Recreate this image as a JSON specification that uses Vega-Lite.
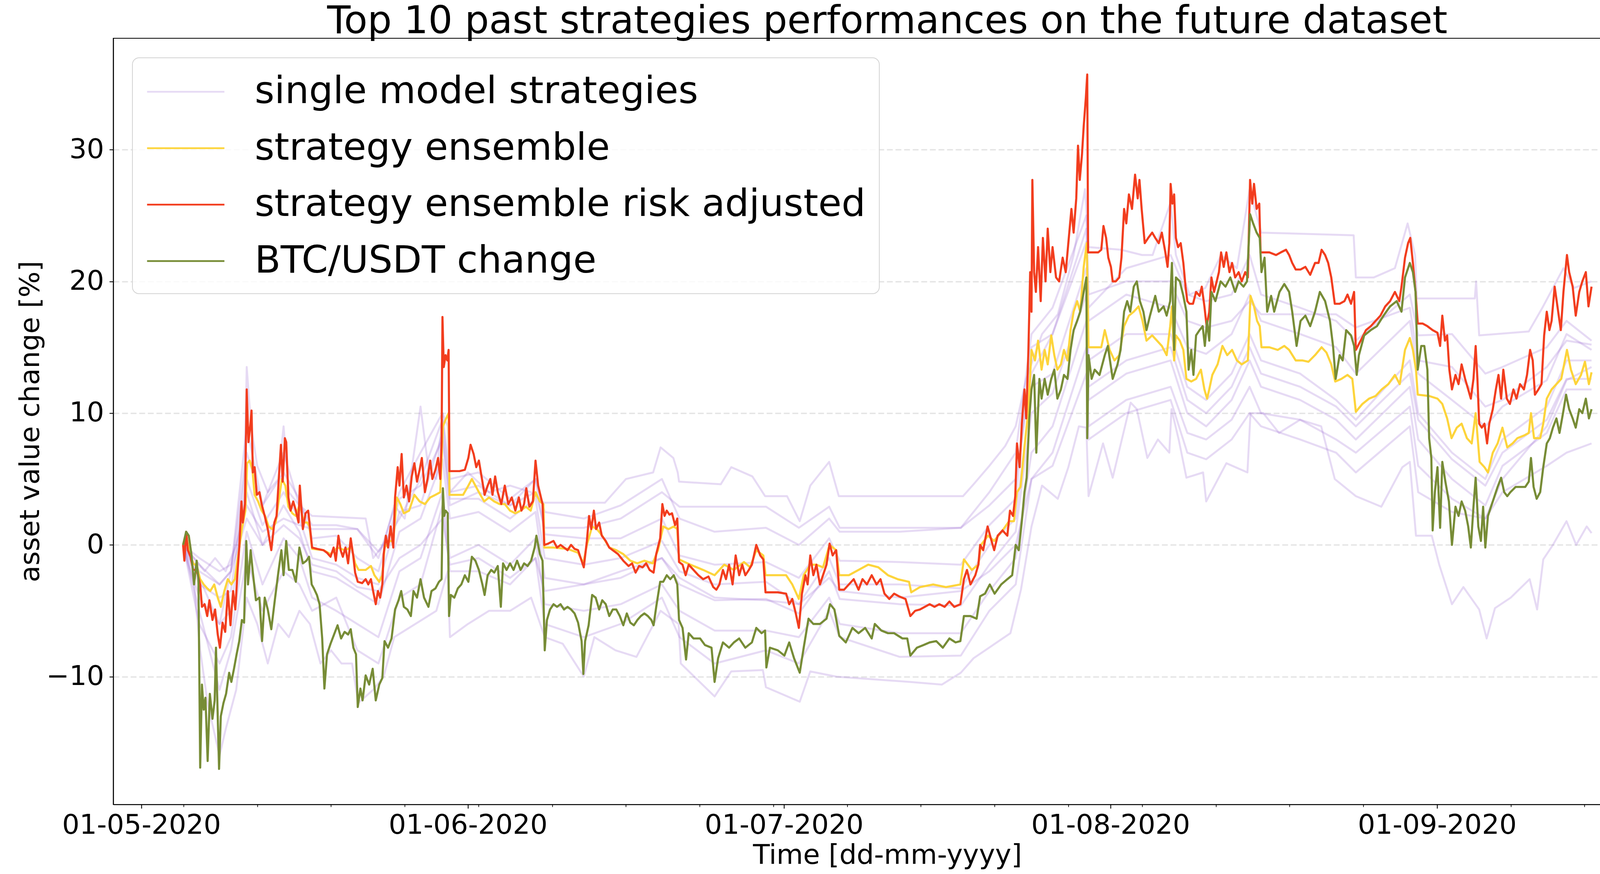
{
  "$schema": "https://vega.github.io/schema/vega-lite/v6.json",
  "width": 4278,
  "height": 2238,
  "autosize": {"type": "fit", "contains": "padding"},
  "padding": {"left": 43, "top": 7, "right": 25, "bottom": 13},
  "background": "white",
  "title": {"text": "Top 10 past strategies performances on the future dataset", "font": "DejaVu Sans", "fontSize": 98, "fontWeight": "normal", "color": "black", "anchor": "middle", "offset": -8},
  "config": {
    "font": "DejaVu Sans",
    "view": {"stroke": "black", "strokeWidth": 2.2}
  },
  "datasets": {
    "single": [
      {"s":1,"t":"2020-05-04 23","v":0},{"s":1,"t":"2020-05-06 00","v":-3},{"s":1,"t":"2020-05-06 14","v":-8},{"s":1,"t":"2020-05-07 07","v":-12},{"s":1,"t":"2020-05-08 10","v":-16},{"s":1,"t":"2020-05-09 00","v":-14},{"s":1,"t":"2020-05-10 00","v":-11},{"s":1,"t":"2020-05-11 00","v":-4},{"s":1,"t":"2020-05-12 00","v":-6},{"s":1,"t":"2020-05-13 00","v":-9},{"s":1,"t":"2020-05-14 00","v":-6},{"s":1,"t":"2020-05-15 00","v":-7},{"s":1,"t":"2020-05-16 00","v":-5},{"s":1,"t":"2020-05-17 00","v":-6},{"s":1,"t":"2020-05-18 00","v":-9},{"s":1,"t":"2020-05-19 00","v":-8},{"s":1,"t":"2020-05-20 00","v":-9},{"s":1,"t":"2020-05-21 00","v":-9},{"s":1,"t":"2020-05-21 14","v":-12},{"s":1,"t":"2020-05-23 00","v":-11},{"s":1,"t":"2020-05-24 00","v":-10},{"s":1,"t":"2020-05-25 00","v":-7},{"s":1,"t":"2020-05-27 00","v":-6},{"s":1,"t":"2020-05-29 00","v":-5},{"s":1,"t":"2020-05-30 02","v":-2},{"s":1,"t":"2020-05-30 07","v":-7},{"s":1,"t":"2020-06-01 00","v":-6},{"s":1,"t":"2020-06-03 00","v":-5},{"s":1,"t":"2020-06-05 00","v":-5},{"s":1,"t":"2020-06-07 00","v":-4},{"s":1,"t":"2020-06-08 07","v":-7},{"s":1,"t":"2020-06-10 00","v":-7.5},{"s":1,"t":"2020-06-12 00","v":-10},{"s":1,"t":"2020-06-13 00","v":-7},{"s":1,"t":"2020-06-15 00","v":-8},{"s":1,"t":"2020-06-17 00","v":-8.5},{"s":1,"t":"2020-06-19 07","v":-5},{"s":1,"t":"2020-06-21 00","v":-6},{"s":1,"t":"2020-06-21 05","v":-9},{"s":1,"t":"2020-06-24 10","v":-11.5},{"s":1,"t":"2020-06-26 00","v":-9.6},{"s":1,"t":"2020-06-29 00","v":-9.5},{"s":1,"t":"2020-06-29 07","v":-10.8},{"s":1,"t":"2020-07-02 12","v":-11.9},{"s":1,"t":"2020-07-03 12","v":-9.6},{"s":1,"t":"2020-07-06 00","v":-10},{"s":1,"t":"2020-07-13 00","v":-10.4},{"s":1,"t":"2020-07-16 00","v":-10.6},{"s":1,"t":"2020-07-17 19","v":-9.7},{"s":1,"t":"2020-07-19 00","v":-8.6},{"s":1,"t":"2020-07-22 12","v":-6.7},{"s":1,"t":"2020-07-23 12","v":-3.4},{"s":1,"t":"2020-07-24 12","v":1.4},{"s":1,"t":"2020-07-25 12","v":4.5},{"s":1,"t":"2020-07-27 00","v":3.5},{"s":1,"t":"2020-07-28 00","v":5.9},{"s":1,"t":"2020-07-29 00","v":9},{"s":1,"t":"2020-07-29 17","v":8.9},{"s":1,"t":"2020-07-29 22","v":3.7},{"s":1,"t":"2020-07-31 07","v":7.7},{"s":1,"t":"2020-08-01 05","v":5.1},{"s":1,"t":"2020-08-02 22","v":10.8},{"s":1,"t":"2020-08-03 12","v":10.3},{"s":1,"t":"2020-08-04 12","v":6.6},{"s":1,"t":"2020-08-05 12","v":8},{"s":1,"t":"2020-08-06 14","v":7},{"s":1,"t":"2020-08-06 19","v":10.3},{"s":1,"t":"2020-08-07 12","v":7.9},{"s":1,"t":"2020-08-08 05","v":5.1},{"s":1,"t":"2020-08-09 19","v":5.5},{"s":1,"t":"2020-08-10 02","v":3.3},{"s":1,"t":"2020-08-12 00","v":6.2},{"s":1,"t":"2020-08-14 00","v":5.5},{"s":1,"t":"2020-08-14 07","v":10},{"s":1,"t":"2020-08-15 12","v":10},{"s":1,"t":"2020-08-17 00","v":8.5},{"s":1,"t":"2020-08-19 00","v":9.5},{"s":1,"t":"2020-08-21 00","v":9},{"s":1,"t":"2020-08-22 07","v":5},{"s":1,"t":"2020-08-24 07","v":3.7},{"s":1,"t":"2020-08-26 17","v":2.9},{"s":1,"t":"2020-08-28 17","v":5.9},{"s":1,"t":"2020-08-29 10","v":6.3},{"s":1,"t":"2020-08-30 00","v":0.7},{"s":1,"t":"2020-08-31 12","v":0.7},{"s":1,"t":"2020-09-01 05","v":-1.5},{"s":1,"t":"2020-09-02 10","v":-4.5},{"s":1,"t":"2020-09-03 12","v":-3.2},{"s":1,"t":"2020-09-05 00","v":-4.9},{"s":1,"t":"2020-09-05 17","v":-7.1},{"s":1,"t":"2020-09-06 12","v":-4.8},{"s":1,"t":"2020-09-08 00","v":-4},{"s":1,"t":"2020-09-09 19","v":-2.6},{"s":1,"t":"2020-09-10 12","v":-4.9},{"s":1,"t":"2020-09-11 02","v":-1.1},{"s":1,"t":"2020-09-12 00","v":0},{"s":1,"t":"2020-09-13 07","v":1.8},{"s":1,"t":"2020-09-14 05","v":0},{"s":1,"t":"2020-09-15 05","v":1.4},{"s":1,"t":"2020-09-15 16","v":0.9},
      {"s":2,"t":"2020-05-04 23","v":0},{"s":2,"t":"2020-05-06 00","v":-1},{"s":2,"t":"2020-05-07 00","v":-2},{"s":2,"t":"2020-05-08 00","v":-1},{"s":2,"t":"2020-05-09 00","v":-2},{"s":2,"t":"2020-05-10 00","v":0},{"s":2,"t":"2020-05-10 19","v":5},{"s":2,"t":"2020-05-11 00","v":13.5},{"s":2,"t":"2020-05-11 10","v":9},{"s":2,"t":"2020-05-12 00","v":6},{"s":2,"t":"2020-05-13 00","v":4},{"s":2,"t":"2020-05-14 00","v":5},{"s":2,"t":"2020-05-14 12","v":9},{"s":2,"t":"2020-05-15 00","v":4},{"s":2,"t":"2020-05-16 00","v":3},{"s":2,"t":"2020-05-17 05","v":2.2},{"s":2,"t":"2020-05-22 07","v":2},{"s":2,"t":"2020-05-23 00","v":-1},{"s":2,"t":"2020-05-24 00","v":0},{"s":2,"t":"2020-05-25 00","v":3},{"s":2,"t":"2020-05-26 00","v":2},{"s":2,"t":"2020-05-27 12","v":10.5},{"s":2,"t":"2020-05-28 07","v":5.5},{"s":2,"t":"2020-05-29 00","v":5},{"s":2,"t":"2020-05-29 14","v":10},{"s":2,"t":"2020-05-30 02","v":9},{"s":2,"t":"2020-05-30 07","v":4},{"s":2,"t":"2020-06-01 00","v":5.5},{"s":2,"t":"2020-06-03 00","v":4},{"s":2,"t":"2020-06-05 00","v":4.5},{"s":2,"t":"2020-06-07 00","v":4},{"s":2,"t":"2020-06-08 05","v":3.2},{"s":2,"t":"2020-06-14 00","v":3.2},{"s":2,"t":"2020-06-16 00","v":5},{"s":2,"t":"2020-06-18 14","v":5.5},{"s":2,"t":"2020-06-19 07","v":7.4},{"s":2,"t":"2020-06-20 12","v":6.6},{"s":2,"t":"2020-06-20 22","v":5.5},{"s":2,"t":"2020-06-21 01","v":4.8},{"s":2,"t":"2020-06-25 00","v":4.6},{"s":2,"t":"2020-06-26 00","v":5.9},{"s":2,"t":"2020-06-28 00","v":5.2},{"s":2,"t":"2020-06-29 05","v":3.7},{"s":2,"t":"2020-07-01 07","v":3.7},{"s":2,"t":"2020-07-02 12","v":1.8},{"s":2,"t":"2020-07-03 12","v":4.5},{"s":2,"t":"2020-07-05 07","v":6.3},{"s":2,"t":"2020-07-06 05","v":3.7},{"s":2,"t":"2020-07-18 00","v":3.7},{"s":2,"t":"2020-07-19 00","v":4.6},{"s":2,"t":"2020-07-20 12","v":6},{"s":2,"t":"2020-07-22 00","v":7.5},{"s":2,"t":"2020-07-23 00","v":9},{"s":2,"t":"2020-07-24 00","v":12.6},{"s":2,"t":"2020-07-25 12","v":16},{"s":2,"t":"2020-07-27 00","v":17.5},{"s":2,"t":"2020-07-28 12","v":22},{"s":2,"t":"2020-07-29 14","v":27},{"s":2,"t":"2020-07-29 22","v":22.6},{"s":2,"t":"2020-08-02 00","v":22.4},{"s":2,"t":"2020-08-04 00","v":22},{"s":2,"t":"2020-08-05 00","v":22},{"s":2,"t":"2020-08-06 17","v":26},{"s":2,"t":"2020-08-07 05","v":22},{"s":2,"t":"2020-08-08 12","v":19},{"s":2,"t":"2020-08-10 00","v":19.5},{"s":2,"t":"2020-08-11 12","v":22},{"s":2,"t":"2020-08-13 00","v":21},{"s":2,"t":"2020-08-14 05","v":27},{"s":2,"t":"2020-08-15 05","v":24},{"s":2,"t":"2020-08-15 07","v":23.7},{"s":2,"t":"2020-08-24 02","v":23.5},{"s":2,"t":"2020-08-24 07","v":20.3},{"s":2,"t":"2020-08-26 00","v":20.3},{"s":2,"t":"2020-08-28 00","v":21},{"s":2,"t":"2020-08-29 05","v":24.4},{"s":2,"t":"2020-08-29 22","v":22},{"s":2,"t":"2020-08-30 02","v":18.7},{"s":2,"t":"2020-09-04 14","v":18.7},{"s":2,"t":"2020-09-04 17","v":20},{"s":2,"t":"2020-09-05 00","v":15.9},{"s":2,"t":"2020-09-09 17","v":16.2},{"s":2,"t":"2020-09-11 00","v":18},{"s":2,"t":"2020-09-13 00","v":21},{"s":2,"t":"2020-09-14 00","v":19.5},{"s":2,"t":"2020-09-15 16","v":20},
      {"s":3,"t":"2020-05-04 23","v":0},{"s":3,"t":"2020-05-06 12","v":-2.5},{"s":3,"t":"2020-05-08 10","v":-6},{"s":3,"t":"2020-05-09 12","v":-2},{"s":3,"t":"2020-05-11 00","v":9},{"s":3,"t":"2020-05-12 12","v":3},{"s":3,"t":"2020-05-14 12","v":7},{"s":3,"t":"2020-05-16 00","v":3},{"s":3,"t":"2020-05-17 05","v":1.5},{"s":3,"t":"2020-05-19 12","v":1.5},{"s":3,"t":"2020-05-21 12","v":1.2},{"s":3,"t":"2020-05-23 12","v":-1},{"s":3,"t":"2020-05-25 12","v":4},{"s":3,"t":"2020-05-27 12","v":7},{"s":3,"t":"2020-05-29 14","v":10},{"s":3,"t":"2020-05-30 07","v":5},{"s":3,"t":"2020-06-02 00","v":5.5},{"s":3,"t":"2020-06-05 00","v":3.5},{"s":3,"t":"2020-06-07 10","v":5},{"s":3,"t":"2020-06-08 07","v":2.5},{"s":3,"t":"2020-06-12 00","v":2},{"s":3,"t":"2020-06-15 12","v":3},{"s":3,"t":"2020-06-19 10","v":5},{"s":3,"t":"2020-06-21 02","v":2},{"s":3,"t":"2020-06-24 10","v":1},{"s":3,"t":"2020-06-29 07","v":1.3},{"s":3,"t":"2020-07-02 10","v":0},{"s":3,"t":"2020-07-05 07","v":2},{"s":3,"t":"2020-07-06 07","v":1},{"s":3,"t":"2020-07-12 00","v":1},{"s":3,"t":"2020-07-17 19","v":1.3},{"s":3,"t":"2020-07-20 12","v":4},{"s":3,"t":"2020-07-23 00","v":7},{"s":3,"t":"2020-07-24 12","v":16},{"s":3,"t":"2020-07-26 12","v":18},{"s":3,"t":"2020-07-29 17","v":25},{"s":3,"t":"2020-07-29 22","v":18},{"s":3,"t":"2020-08-02 12","v":21},{"s":3,"t":"2020-08-06 17","v":22},{"s":3,"t":"2020-08-08 07","v":19},{"s":3,"t":"2020-08-10 02","v":18.5},{"s":3,"t":"2020-08-12 12","v":19},{"s":3,"t":"2020-08-14 05","v":22},{"s":3,"t":"2020-08-15 07","v":19},{"s":3,"t":"2020-08-19 00","v":18},{"s":3,"t":"2020-08-22 10","v":17},{"s":3,"t":"2020-08-24 07","v":15.5},{"s":3,"t":"2020-08-29 10","v":19},{"s":3,"t":"2020-08-30 05","v":15.9},{"s":3,"t":"2020-09-02 10","v":16},{"s":3,"t":"2020-09-05 14","v":13},{"s":3,"t":"2020-09-07 05","v":13.5},{"s":3,"t":"2020-09-11 10","v":15},{"s":3,"t":"2020-09-13 07","v":17},{"s":3,"t":"2020-09-15 16","v":15.5},
      {"s":4,"t":"2020-05-04 23","v":0},{"s":4,"t":"2020-05-06 12","v":-2},{"s":4,"t":"2020-05-08 10","v":-3},{"s":4,"t":"2020-05-09 12","v":-2},{"s":4,"t":"2020-05-11 00","v":7},{"s":4,"t":"2020-05-12 12","v":3},{"s":4,"t":"2020-05-14 12","v":5.5},{"s":4,"t":"2020-05-16 00","v":3.5},{"s":4,"t":"2020-05-17 05","v":0.5},{"s":4,"t":"2020-05-19 12","v":0.7},{"s":4,"t":"2020-05-21 12","v":-1},{"s":4,"t":"2020-05-23 12","v":-2},{"s":4,"t":"2020-05-25 12","v":3.5},{"s":4,"t":"2020-05-27 12","v":4.5},{"s":4,"t":"2020-05-29 14","v":8},{"s":4,"t":"2020-05-30 07","v":3},{"s":4,"t":"2020-06-02 00","v":4},{"s":4,"t":"2020-06-05 00","v":3},{"s":4,"t":"2020-06-07 10","v":5},{"s":4,"t":"2020-06-08 07","v":0.8},{"s":4,"t":"2020-06-12 00","v":0.5},{"s":4,"t":"2020-06-15 12","v":0.5},{"s":4,"t":"2020-06-19 10","v":2},{"s":4,"t":"2020-06-21 02","v":-0.8},{"s":4,"t":"2020-06-24 10","v":-1.5},{"s":4,"t":"2020-06-29 07","v":-1.3},{"s":4,"t":"2020-07-02 10","v":-2.5},{"s":4,"t":"2020-07-05 07","v":0.5},{"s":4,"t":"2020-07-06 07","v":-1.2},{"s":4,"t":"2020-07-12 00","v":-1.3},{"s":4,"t":"2020-07-17 19","v":-1.5},{"s":4,"t":"2020-07-20 12","v":1.5},{"s":4,"t":"2020-07-23 00","v":3.5},{"s":4,"t":"2020-07-24 12","v":15},{"s":4,"t":"2020-07-26 12","v":16},{"s":4,"t":"2020-07-29 17","v":23},{"s":4,"t":"2020-07-29 22","v":17},{"s":4,"t":"2020-08-02 12","v":19},{"s":4,"t":"2020-08-06 17","v":18},{"s":4,"t":"2020-08-08 07","v":15},{"s":4,"t":"2020-08-10 02","v":14.5},{"s":4,"t":"2020-08-12 12","v":16},{"s":4,"t":"2020-08-14 05","v":19},{"s":4,"t":"2020-08-15 07","v":17},{"s":4,"t":"2020-08-19 00","v":16},{"s":4,"t":"2020-08-22 10","v":15},{"s":4,"t":"2020-08-24 07","v":13},{"s":4,"t":"2020-08-29 10","v":17},{"s":4,"t":"2020-08-30 05","v":13},{"s":4,"t":"2020-09-02 10","v":11},{"s":4,"t":"2020-09-05 14","v":9},{"s":4,"t":"2020-09-07 05","v":10.5},{"s":4,"t":"2020-09-11 10","v":12.5},{"s":4,"t":"2020-09-13 07","v":16},{"s":4,"t":"2020-09-15 16","v":14.8},
      {"s":5,"t":"2020-05-04 23","v":0},{"s":5,"t":"2020-05-06 12","v":-3},{"s":5,"t":"2020-05-08 10","v":-4},{"s":5,"t":"2020-05-09 12","v":-3.5},{"s":5,"t":"2020-05-11 00","v":5},{"s":5,"t":"2020-05-12 12","v":1.5},{"s":5,"t":"2020-05-14 12","v":4},{"s":5,"t":"2020-05-16 00","v":2},{"s":5,"t":"2020-05-17 05","v":-1},{"s":5,"t":"2020-05-19 12","v":-1.5},{"s":5,"t":"2020-05-21 12","v":-2.5},{"s":5,"t":"2020-05-23 12","v":-3},{"s":5,"t":"2020-05-25 12","v":2.5},{"s":5,"t":"2020-05-27 12","v":3},{"s":5,"t":"2020-05-29 14","v":8.5},{"s":5,"t":"2020-05-30 07","v":3.5},{"s":5,"t":"2020-06-02 00","v":3.5},{"s":5,"t":"2020-06-05 00","v":2},{"s":5,"t":"2020-06-07 10","v":3.5},{"s":5,"t":"2020-06-08 07","v":-1},{"s":5,"t":"2020-06-12 00","v":-1.5},{"s":5,"t":"2020-06-15 12","v":-1},{"s":5,"t":"2020-06-19 10","v":0.3},{"s":5,"t":"2020-06-21 02","v":-2},{"s":5,"t":"2020-06-24 10","v":-3},{"s":5,"t":"2020-06-29 07","v":-2.8},{"s":5,"t":"2020-07-02 10","v":-4.5},{"s":5,"t":"2020-07-05 07","v":-1},{"s":5,"t":"2020-07-06 07","v":-3},{"s":5,"t":"2020-07-12 00","v":-3},{"s":5,"t":"2020-07-17 19","v":-3.3},{"s":5,"t":"2020-07-20 12","v":0},{"s":5,"t":"2020-07-23 00","v":2},{"s":5,"t":"2020-07-24 12","v":12},{"s":5,"t":"2020-07-26 12","v":13},{"s":5,"t":"2020-07-29 17","v":21},{"s":5,"t":"2020-07-29 22","v":14},{"s":5,"t":"2020-08-02 12","v":16},{"s":5,"t":"2020-08-06 17","v":16},{"s":5,"t":"2020-08-08 07","v":12},{"s":5,"t":"2020-08-10 02","v":11},{"s":5,"t":"2020-08-12 12","v":13},{"s":5,"t":"2020-08-14 05","v":16},{"s":5,"t":"2020-08-15 07","v":14},{"s":5,"t":"2020-08-19 00","v":13},{"s":5,"t":"2020-08-22 10","v":11},{"s":5,"t":"2020-08-24 07","v":9.5},{"s":5,"t":"2020-08-29 10","v":14},{"s":5,"t":"2020-08-30 05","v":10},{"s":5,"t":"2020-09-02 10","v":7},{"s":5,"t":"2020-09-05 14","v":5},{"s":5,"t":"2020-09-07 05","v":8},{"s":5,"t":"2020-09-11 10","v":10.5},{"s":5,"t":"2020-09-13 07","v":14},{"s":5,"t":"2020-09-15 16","v":14},
      {"s":6,"t":"2020-05-04 23","v":0},{"s":6,"t":"2020-05-06 12","v":-4},{"s":6,"t":"2020-05-08 10","v":-6},{"s":6,"t":"2020-05-09 12","v":-5},{"s":6,"t":"2020-05-11 00","v":4},{"s":6,"t":"2020-05-12 12","v":0},{"s":6,"t":"2020-05-14 12","v":3},{"s":6,"t":"2020-05-16 00","v":1},{"s":6,"t":"2020-05-17 05","v":-2},{"s":6,"t":"2020-05-19 12","v":-2.5},{"s":6,"t":"2020-05-21 12","v":-3.5},{"s":6,"t":"2020-05-23 12","v":-4.5},{"s":6,"t":"2020-05-25 12","v":1},{"s":6,"t":"2020-05-27 12","v":2},{"s":6,"t":"2020-05-29 14","v":6.5},{"s":6,"t":"2020-05-30 07","v":2},{"s":6,"t":"2020-06-02 00","v":2.5},{"s":6,"t":"2020-06-05 00","v":1},{"s":6,"t":"2020-06-07 10","v":2.5},{"s":6,"t":"2020-06-08 07","v":-2.5},{"s":6,"t":"2020-06-12 00","v":-3},{"s":6,"t":"2020-06-15 12","v":-2.5},{"s":6,"t":"2020-06-19 10","v":-1},{"s":6,"t":"2020-06-21 02","v":-3},{"s":6,"t":"2020-06-24 10","v":-4.2},{"s":6,"t":"2020-06-29 07","v":-4.1},{"s":6,"t":"2020-07-02 10","v":-5.2},{"s":6,"t":"2020-07-05 07","v":-2},{"s":6,"t":"2020-07-06 07","v":-4.1},{"s":6,"t":"2020-07-12 00","v":-4.5},{"s":6,"t":"2020-07-17 19","v":-4.6},{"s":6,"t":"2020-07-20 12","v":-1.5},{"s":6,"t":"2020-07-23 00","v":1},{"s":6,"t":"2020-07-24 12","v":10},{"s":6,"t":"2020-07-26 12","v":11.5},{"s":6,"t":"2020-07-29 17","v":19},{"s":6,"t":"2020-07-29 22","v":12},{"s":6,"t":"2020-08-02 12","v":14},{"s":6,"t":"2020-08-06 17","v":15},{"s":6,"t":"2020-08-08 07","v":11},{"s":6,"t":"2020-08-10 02","v":10},{"s":6,"t":"2020-08-12 12","v":12},{"s":6,"t":"2020-08-14 05","v":15},{"s":6,"t":"2020-08-15 07","v":13},{"s":6,"t":"2020-08-19 00","v":12},{"s":6,"t":"2020-08-22 10","v":10.5},{"s":6,"t":"2020-08-24 07","v":9},{"s":6,"t":"2020-08-29 10","v":13},{"s":6,"t":"2020-08-30 05","v":9.5},{"s":6,"t":"2020-09-02 10","v":6.5},{"s":6,"t":"2020-09-05 14","v":4.5},{"s":6,"t":"2020-09-07 05","v":7},{"s":6,"t":"2020-09-11 10","v":9.5},{"s":6,"t":"2020-09-13 07","v":12.6},{"s":6,"t":"2020-09-15 16","v":12.6},
      {"s":7,"t":"2020-05-04 23","v":0},{"s":7,"t":"2020-05-06 12","v":-6},{"s":7,"t":"2020-05-08 10","v":-9},{"s":7,"t":"2020-05-09 12","v":-7},{"s":7,"t":"2020-05-11 00","v":1},{"s":7,"t":"2020-05-12 12","v":-3},{"s":7,"t":"2020-05-14 12","v":0.5},{"s":7,"t":"2020-05-16 00","v":-1},{"s":7,"t":"2020-05-17 05","v":-4},{"s":7,"t":"2020-05-19 12","v":-5},{"s":7,"t":"2020-05-21 12","v":-6},{"s":7,"t":"2020-05-23 12","v":-7},{"s":7,"t":"2020-05-25 12","v":-2},{"s":7,"t":"2020-05-27 12","v":-1},{"s":7,"t":"2020-05-29 14","v":4},{"s":7,"t":"2020-05-30 07","v":-1},{"s":7,"t":"2020-06-02 00","v":0},{"s":7,"t":"2020-06-05 00","v":-1.5},{"s":7,"t":"2020-06-07 10","v":0.5},{"s":7,"t":"2020-06-08 07","v":-4.5},{"s":7,"t":"2020-06-12 00","v":-5},{"s":7,"t":"2020-06-15 12","v":-4.5},{"s":7,"t":"2020-06-19 10","v":-3},{"s":7,"t":"2020-06-21 02","v":-5},{"s":7,"t":"2020-06-24 10","v":-6.5},{"s":7,"t":"2020-06-29 07","v":-6.5},{"s":7,"t":"2020-07-02 10","v":-7},{"s":7,"t":"2020-07-05 07","v":-4},{"s":7,"t":"2020-07-06 07","v":-6},{"s":7,"t":"2020-07-12 00","v":-6.7},{"s":7,"t":"2020-07-17 19","v":-6.7},{"s":7,"t":"2020-07-20 12","v":-3.5},{"s":7,"t":"2020-07-23 00","v":-1},{"s":7,"t":"2020-07-24 12","v":7},{"s":7,"t":"2020-07-26 12","v":9},{"s":7,"t":"2020-07-29 17","v":17},{"s":7,"t":"2020-07-29 22","v":11},{"s":7,"t":"2020-08-02 12","v":13},{"s":7,"t":"2020-08-06 17","v":14},{"s":7,"t":"2020-08-08 07","v":10},{"s":7,"t":"2020-08-10 02","v":9},{"s":7,"t":"2020-08-12 12","v":11},{"s":7,"t":"2020-08-14 05","v":14},{"s":7,"t":"2020-08-15 07","v":12},{"s":7,"t":"2020-08-19 00","v":11},{"s":7,"t":"2020-08-22 10","v":9.5},{"s":7,"t":"2020-08-24 07","v":8},{"s":7,"t":"2020-08-29 10","v":12},{"s":7,"t":"2020-08-30 05","v":8},{"s":7,"t":"2020-09-02 10","v":5},{"s":7,"t":"2020-09-05 14","v":3},{"s":7,"t":"2020-09-07 05","v":6},{"s":7,"t":"2020-09-11 10","v":8.5},{"s":7,"t":"2020-09-13 07","v":11.8},{"s":7,"t":"2020-09-15 16","v":11.8},
      {"s":8,"t":"2020-05-04 23","v":0},{"s":8,"t":"2020-05-06 12","v":-1},{"s":8,"t":"2020-05-08 10","v":-2},{"s":8,"t":"2020-05-09 12","v":-1.5},{"s":8,"t":"2020-05-11 00","v":3},{"s":8,"t":"2020-05-12 12","v":1},{"s":8,"t":"2020-05-14 12","v":2},{"s":8,"t":"2020-05-16 00","v":1.5},{"s":8,"t":"2020-05-17 05","v":1.2},{"s":8,"t":"2020-05-19 12","v":1.2},{"s":8,"t":"2020-05-21 12","v":1.2},{"s":8,"t":"2020-05-23 12","v":-0.5},{"s":8,"t":"2020-05-25 12","v":2},{"s":8,"t":"2020-05-27 12","v":5},{"s":8,"t":"2020-05-29 14","v":9.5},{"s":8,"t":"2020-05-30 07","v":4},{"s":8,"t":"2020-06-02 00","v":4.5},{"s":8,"t":"2020-06-05 00","v":3},{"s":8,"t":"2020-06-07 10","v":4},{"s":8,"t":"2020-06-08 07","v":1.3},{"s":8,"t":"2020-06-12 00","v":1.3},{"s":8,"t":"2020-06-15 12","v":2},{"s":8,"t":"2020-06-19 10","v":4},{"s":8,"t":"2020-06-21 02","v":2.9},{"s":8,"t":"2020-06-24 10","v":2.9},{"s":8,"t":"2020-06-29 07","v":2.9},{"s":8,"t":"2020-07-02 10","v":1.3},{"s":8,"t":"2020-07-05 07","v":2.9},{"s":8,"t":"2020-07-06 07","v":1.3},{"s":8,"t":"2020-07-12 00","v":1.3},{"s":8,"t":"2020-07-17 19","v":1.3},{"s":8,"t":"2020-07-20 12","v":3},{"s":8,"t":"2020-07-23 00","v":5},{"s":8,"t":"2020-07-24 12","v":13},{"s":8,"t":"2020-07-26 12","v":16},{"s":8,"t":"2020-07-29 17","v":24},{"s":8,"t":"2020-07-29 22","v":19},{"s":8,"t":"2020-08-02 12","v":20},{"s":8,"t":"2020-08-06 17","v":20},{"s":8,"t":"2020-08-08 07","v":17},{"s":8,"t":"2020-08-10 02","v":16.5},{"s":8,"t":"2020-08-12 12","v":17},{"s":8,"t":"2020-08-14 05","v":18.5},{"s":8,"t":"2020-08-15 07","v":17.5},{"s":8,"t":"2020-08-19 00","v":17.5},{"s":8,"t":"2020-08-22 10","v":17.5},{"s":8,"t":"2020-08-24 07","v":16.5},{"s":8,"t":"2020-08-29 10","v":18},{"s":8,"t":"2020-08-30 05","v":14},{"s":8,"t":"2020-09-02 10","v":13.5},{"s":8,"t":"2020-09-05 14","v":10.5},{"s":8,"t":"2020-09-07 05","v":11},{"s":8,"t":"2020-09-11 10","v":13.5},{"s":8,"t":"2020-09-13 07","v":15.5},{"s":8,"t":"2020-09-15 16","v":15.2},
      {"s":9,"t":"2020-05-04 23","v":0},{"s":9,"t":"2020-05-06 12","v":-5},{"s":9,"t":"2020-05-08 10","v":-11},{"s":9,"t":"2020-05-09 12","v":-8},{"s":9,"t":"2020-05-11 00","v":-1},{"s":9,"t":"2020-05-12 12","v":-5},{"s":9,"t":"2020-05-14 12","v":-2},{"s":9,"t":"2020-05-16 00","v":-3},{"s":9,"t":"2020-05-17 05","v":-5},{"s":9,"t":"2020-05-19 12","v":-4},{"s":9,"t":"2020-05-21 12","v":-8},{"s":9,"t":"2020-05-23 12","v":-9},{"s":9,"t":"2020-05-25 12","v":-4},{"s":9,"t":"2020-05-27 12","v":-3},{"s":9,"t":"2020-05-29 14","v":3},{"s":9,"t":"2020-05-30 07","v":-2},{"s":9,"t":"2020-06-02 00","v":-2},{"s":9,"t":"2020-06-05 00","v":-3},{"s":9,"t":"2020-06-07 10","v":-1},{"s":9,"t":"2020-06-08 07","v":-6},{"s":9,"t":"2020-06-12 00","v":-7},{"s":9,"t":"2020-06-15 12","v":-6},{"s":9,"t":"2020-06-19 10","v":-4},{"s":9,"t":"2020-06-21 02","v":-7},{"s":9,"t":"2020-06-24 10","v":-9},{"s":9,"t":"2020-06-29 07","v":-8},{"s":9,"t":"2020-07-02 10","v":-9},{"s":9,"t":"2020-07-05 07","v":-5},{"s":9,"t":"2020-07-06 07","v":-7},{"s":9,"t":"2020-07-12 00","v":-8.5},{"s":9,"t":"2020-07-17 19","v":-8.4},{"s":9,"t":"2020-07-20 12","v":-5},{"s":9,"t":"2020-07-23 00","v":-3},{"s":9,"t":"2020-07-24 12","v":5},{"s":9,"t":"2020-07-26 12","v":7},{"s":9,"t":"2020-07-29 17","v":15},{"s":9,"t":"2020-07-29 22","v":9},{"s":9,"t":"2020-08-02 12","v":11},{"s":9,"t":"2020-08-06 17","v":12},{"s":9,"t":"2020-08-08 07","v":8.5},{"s":9,"t":"2020-08-10 02","v":8},{"s":9,"t":"2020-08-12 12","v":9.5},{"s":9,"t":"2020-08-14 05","v":12},{"s":9,"t":"2020-08-15 07","v":10},{"s":9,"t":"2020-08-19 00","v":9.5},{"s":9,"t":"2020-08-22 10","v":8},{"s":9,"t":"2020-08-24 07","v":7},{"s":9,"t":"2020-08-29 10","v":10.5},{"s":9,"t":"2020-08-30 05","v":6},{"s":9,"t":"2020-09-02 10","v":3.5},{"s":9,"t":"2020-09-05 14","v":2},{"s":9,"t":"2020-09-07 05","v":5},{"s":9,"t":"2020-09-11 10","v":9},{"s":9,"t":"2020-09-13 07","v":12.5},{"s":9,"t":"2020-09-15 16","v":13.5},
      {"s":10,"t":"2020-05-04 23","v":0},{"s":10,"t":"2020-05-06 12","v":-1.5},{"s":10,"t":"2020-05-08 10","v":-3},{"s":10,"t":"2020-05-09 12","v":-2},{"s":10,"t":"2020-05-11 00","v":2},{"s":10,"t":"2020-05-12 12","v":0},{"s":10,"t":"2020-05-14 12","v":1.5},{"s":10,"t":"2020-05-16 00","v":0.5},{"s":10,"t":"2020-05-17 05","v":-1.5},{"s":10,"t":"2020-05-19 12","v":-2},{"s":10,"t":"2020-05-21 12","v":-3.2},{"s":10,"t":"2020-05-23 12","v":-3.5},{"s":10,"t":"2020-05-25 12","v":-1},{"s":10,"t":"2020-05-27 12","v":0},{"s":10,"t":"2020-05-29 14","v":2},{"s":10,"t":"2020-05-30 07","v":-1.5},{"s":10,"t":"2020-06-02 00","v":-1},{"s":10,"t":"2020-06-05 00","v":-2.5},{"s":10,"t":"2020-06-07 10","v":-1},{"s":10,"t":"2020-06-08 07","v":-3.5},{"s":10,"t":"2020-06-12 00","v":-3},{"s":10,"t":"2020-06-15 12","v":-2},{"s":10,"t":"2020-06-19 10","v":-1},{"s":10,"t":"2020-06-21 02","v":-2.5},{"s":10,"t":"2020-06-24 10","v":-4},{"s":10,"t":"2020-06-29 07","v":-4.2},{"s":10,"t":"2020-07-02 10","v":-4.5},{"s":10,"t":"2020-07-05 07","v":-2.5},{"s":10,"t":"2020-07-06 07","v":-3.5},{"s":10,"t":"2020-07-12 00","v":-4},{"s":10,"t":"2020-07-17 19","v":-3.5},{"s":10,"t":"2020-07-20 12","v":-2},{"s":10,"t":"2020-07-23 00","v":0},{"s":10,"t":"2020-07-24 12","v":5},{"s":10,"t":"2020-07-26 12","v":6},{"s":10,"t":"2020-07-29 17","v":13},{"s":10,"t":"2020-07-29 22","v":8},{"s":10,"t":"2020-08-02 12","v":10},{"s":10,"t":"2020-08-06 17","v":11},{"s":10,"t":"2020-08-08 07","v":7},{"s":10,"t":"2020-08-10 02","v":6.5},{"s":10,"t":"2020-08-12 12","v":8},{"s":10,"t":"2020-08-14 05","v":10},{"s":10,"t":"2020-08-15 07","v":9},{"s":10,"t":"2020-08-19 00","v":8},{"s":10,"t":"2020-08-22 10","v":7},{"s":10,"t":"2020-08-24 07","v":5.5},{"s":10,"t":"2020-08-29 10","v":9},{"s":10,"t":"2020-08-30 05","v":4},{"s":10,"t":"2020-09-02 10","v":2.5},{"s":10,"t":"2020-09-05 14","v":2},{"s":10,"t":"2020-09-07 05","v":4},{"s":10,"t":"2020-09-11 10","v":6},{"s":10,"t":"2020-09-13 07","v":7},{"s":10,"t":"2020-09-15 16","v":7.7}
    ],
    "ens": [
      {"t":"2020-05-04 23","v":0},{"t":"2020-05-05 06","v":0.7},{"t":"2020-05-05 14","v":-0.7},{"t":"2020-05-05 22","v":-1.4},{"t":"2020-05-06 06","v":-1.6},{"t":"2020-05-06 14","v":-2.6},{"t":"2020-05-06 22","v":-3.0},{"t":"2020-05-07 06","v":-3.3},{"t":"2020-05-07 13","v":-3.5},{"t":"2020-05-07 22","v":-3.0},{"t":"2020-05-08 06","v":-4.0},{"t":"2020-05-08 13","v":-4.7},{"t":"2020-05-08 21","v":-3.5},{"t":"2020-05-09 05","v":-2.6},{"t":"2020-05-09 13","v":-3.0},{"t":"2020-05-09 21","v":-2.6},{"t":"2020-05-10 05","v":-0.7},{"t":"2020-05-10 13","v":1.2},{"t":"2020-05-10 21","v":2.6},{"t":"2020-05-11 01","v":6.2},{"t":"2020-05-11 07","v":6.4},{"t":"2020-05-11 13","v":5.7},{"t":"2020-05-11 18","v":3.8},{"t":"2020-05-12 02","v":3.3},{"t":"2020-05-12 10","v":2.6},{"t":"2020-05-12 18","v":2.2},{"t":"2020-05-13 02","v":1.4},{"t":"2020-05-13 10","v":1.2},{"t":"2020-05-13 18","v":1.7},{"t":"2020-05-14 02","v":3.6},{"t":"2020-05-14 08","v":5.0},{"t":"2020-05-14 16","v":4.5},{"t":"2020-05-14 23","v":2.9},{"t":"2020-05-15 08","v":2.4},{"t":"2020-05-15 16","v":2.2},{"t":"2020-05-16 01","v":3.1},{"t":"2020-05-16 10","v":1.7},{"t":"2020-05-16 18","v":1.7},{"t":"2020-05-16 23","v":1.4},{"t":"2020-05-17 05","v":-0.3},{"t":"2020-05-18 07","v":-0.4},{"t":"2020-05-18 23","v":-0.7},{"t":"2020-05-19 15","v":-0.2},{"t":"2020-05-20 07","v":-0.4},{"t":"2020-05-20 23","v":-0.2},{"t":"2020-05-21 07","v":-1.4},{"t":"2020-05-21 15","v":-1.9},{"t":"2020-05-22 07","v":-1.9},{"t":"2020-05-22 19","v":-1.6},{"t":"2020-05-23 03","v":-2.3},{"t":"2020-05-23 14","v":-2.8},{"t":"2020-05-23 21","v":-2.3},{"t":"2020-05-24 02","v":-0.2},{"t":"2020-05-24 14","v":0.3},{"t":"2020-05-24 22","v":0.3},{"t":"2020-05-25 06","v":3.6},{"t":"2020-05-25 14","v":3.1},{"t":"2020-05-25 22","v":2.4},{"t":"2020-05-26 10","v":2.6},{"t":"2020-05-26 22","v":3.8},{"t":"2020-05-27 10","v":3.3},{"t":"2020-05-27 22","v":3.1},{"t":"2020-05-28 10","v":3.6},{"t":"2020-05-28 22","v":3.8},{"t":"2020-05-29 09","v":4.0},{"t":"2020-05-29 15","v":9.0},{"t":"2020-05-29 21","v":9.5},{"t":"2020-05-30 04","v":10.0},{"t":"2020-05-30 06","v":3.8},{"t":"2020-05-31 13","v":3.8},{"t":"2020-06-01 01","v":4.5},{"t":"2020-06-01 09","v":5.0},{"t":"2020-06-01 17","v":4.5},{"t":"2020-06-02 01","v":4.0},{"t":"2020-06-02 13","v":3.3},{"t":"2020-06-03 00","v":3.6},{"t":"2020-06-03 12","v":3.3},{"t":"2020-06-04 00","v":3.1},{"t":"2020-06-04 12","v":3.1},{"t":"2020-06-05 00","v":2.6},{"t":"2020-06-05 12","v":2.4},{"t":"2020-06-06 00","v":2.6},{"t":"2020-06-06 12","v":2.9},{"t":"2020-06-06 23","v":2.6},{"t":"2020-06-07 10","v":4.0},{"t":"2020-06-07 20","v":3.3},{"t":"2020-06-08 04","v":3.1},{"t":"2020-06-08 06","v":-0.2},{"t":"2020-06-09 03","v":-0.2},{"t":"2020-06-10 11","v":-0.3},{"t":"2020-06-11 11","v":-0.6},{"t":"2020-06-11 23","v":-1.4},{"t":"2020-06-12 07","v":0.0},{"t":"2020-06-12 19","v":1.4},{"t":"2020-06-13 06","v":1.2},{"t":"2020-06-13 18","v":0.7},{"t":"2020-06-14 10","v":-0.2},{"t":"2020-06-15 02","v":-0.4},{"t":"2020-06-15 18","v":-0.7},{"t":"2020-06-16 10","v":-1.2},{"t":"2020-06-17 02","v":-1.4},{"t":"2020-06-17 18","v":-1.2},{"t":"2020-06-18 13","v":-1.4},{"t":"2020-06-19 01","v":-0.4},{"t":"2020-06-19 13","v":1.4},{"t":"2020-06-20 01","v":1.2},{"t":"2020-06-20 13","v":1.4},{"t":"2020-06-20 21","v":1.2},{"t":"2020-06-21 01","v":-1.1},{"t":"2020-06-22 03","v":-1.5},{"t":"2020-06-23 08","v":-1.9},{"t":"2020-06-24 10","v":-2.3},{"t":"2020-06-25 08","v":-1.5},{"t":"2020-06-26 06","v":-1.9},{"t":"2020-06-27 05","v":-1.3},{"t":"2020-06-27 19","v":-1.7},{"t":"2020-06-28 09","v":-0.4},{"t":"2020-06-29 01","v":-0.8},{"t":"2020-06-29 06","v":-2.3},{"t":"2020-07-01 05","v":-2.3},{"t":"2020-07-01 19","v":-3.0},{"t":"2020-07-02 10","v":-4.1},{"t":"2020-07-02 21","v":-2.3},{"t":"2020-07-03 12","v":-1.5},{"t":"2020-07-04 02","v":-1.5},{"t":"2020-07-04 17","v":-1.7},{"t":"2020-07-05 08","v":0.0},{"t":"2020-07-05 23","v":-0.4},{"t":"2020-07-06 06","v":-2.3},{"t":"2020-07-07 04","v":-2.3},{"t":"2020-07-08 02","v":-1.9},{"t":"2020-07-09 00","v":-1.5},{"t":"2020-07-09 23","v":-1.7},{"t":"2020-07-10 21","v":-2.3},{"t":"2020-07-11 19","v":-2.6},{"t":"2020-07-12 21","v":-2.8},{"t":"2020-07-13 02","v":-3.6},{"t":"2020-07-13 22","v":-3.2},{"t":"2020-07-15 04","v":-3.0},{"t":"2020-07-16 09","v":-3.2},{"t":"2020-07-17 18","v":-3.0},{"t":"2020-07-18 02","v":-1.1},{"t":"2020-07-18 20","v":-1.9},{"t":"2020-07-19 11","v":-1.5},{"t":"2020-07-19 17","v":0.0},{"t":"2020-07-20 09","v":0.7},{"t":"2020-07-20 23","v":0.3},{"t":"2020-07-21 18","v":1.1},{"t":"2020-07-22 09","v":1.8},{"t":"2020-07-22 20","v":1.8},{"t":"2020-07-23 03","v":4.0},{"t":"2020-07-23 11","v":4.4},{"t":"2020-07-23 20","v":7.4},{"t":"2020-07-24 05","v":10.3},{"t":"2020-07-24 12","v":14.8},{"t":"2020-07-24 20","v":14.0},{"t":"2020-07-25 03","v":15.5},{"t":"2020-07-25 11","v":13.3},{"t":"2020-07-25 18","v":14.8},{"t":"2020-07-26 01","v":13.7},{"t":"2020-07-26 09","v":15.9},{"t":"2020-07-26 16","v":14.4},{"t":"2020-07-26 23","v":13.3},{"t":"2020-07-27 07","v":13.7},{"t":"2020-07-27 14","v":14.8},{"t":"2020-07-27 22","v":14.0},{"t":"2020-07-28 05","v":16.3},{"t":"2020-07-28 12","v":17.7},{"t":"2020-07-28 20","v":18.5},{"t":"2020-07-29 03","v":17.7},{"t":"2020-07-29 11","v":21.1},{"t":"2020-07-29 18","v":22.9},{"t":"2020-07-29 22","v":15.0},{"t":"2020-07-31 03","v":15.0},{"t":"2020-07-31 11","v":16.3},{"t":"2020-07-31 22","v":14.8},{"t":"2020-08-01 09","v":14.0},{"t":"2020-08-01 20","v":14.4},{"t":"2020-08-02 07","v":16.6},{"t":"2020-08-02 18","v":17.4},{"t":"2020-08-03 05","v":17.7},{"t":"2020-08-03 16","v":18.1},{"t":"2020-08-04 01","v":17.0},{"t":"2020-08-04 10","v":15.5},{"t":"2020-08-04 23","v":15.9},{"t":"2020-08-05 10","v":15.5},{"t":"2020-08-05 21","v":15.1},{"t":"2020-08-06 08","v":14.4},{"t":"2020-08-06 16","v":16.6},{"t":"2020-08-06 20","v":18.1},{"t":"2020-08-07 01","v":14.0},{"t":"2020-08-07 05","v":15.9},{"t":"2020-08-07 14","v":15.5},{"t":"2020-08-07 22","v":14.8},{"t":"2020-08-08 05","v":12.6},{"t":"2020-08-08 16","v":12.4},{"t":"2020-08-09 03","v":12.6},{"t":"2020-08-09 14","v":13.3},{"t":"2020-08-09 22","v":11.8},{"t":"2020-08-10 04","v":11.1},{"t":"2020-08-10 09","v":11.8},{"t":"2020-08-10 16","v":12.9},{"t":"2020-08-11 04","v":13.7},{"t":"2020-08-11 15","v":15.1},{"t":"2020-08-12 02","v":14.4},{"t":"2020-08-12 13","v":14.8},{"t":"2020-08-13 00","v":14.0},{"t":"2020-08-13 11","v":13.7},{"t":"2020-08-14 01","v":14.0},{"t":"2020-08-14 07","v":18.9},{"t":"2020-08-14 15","v":18.1},{"t":"2020-08-14 22","v":17.0},{"t":"2020-08-15 04","v":16.6},{"t":"2020-08-15 08","v":15.0},{"t":"2020-08-16 02","v":15.0},{"t":"2020-08-16 21","v":14.8},{"t":"2020-08-17 12","v":15.1},{"t":"2020-08-17 23","v":14.8},{"t":"2020-08-18 14","v":14.0},{"t":"2020-08-19 05","v":14.0},{"t":"2020-08-19 19","v":13.9},{"t":"2020-08-20 10","v":14.4},{"t":"2020-08-21 01","v":15.0},{"t":"2020-08-21 12","v":14.6},{"t":"2020-08-21 23","v":13.7},{"t":"2020-08-22 08","v":12.4},{"t":"2020-08-22 22","v":12.6},{"t":"2020-08-23 12","v":12.9},{"t":"2020-08-23 23","v":12.6},{"t":"2020-08-24 07","v":10.1},{"t":"2020-08-24 22","v":10.7},{"t":"2020-08-25 13","v":11.1},{"t":"2020-08-26 04","v":11.3},{"t":"2020-08-26 18","v":11.8},{"t":"2020-08-27 09","v":12.2},{"t":"2020-08-28 00","v":12.9},{"t":"2020-08-28 11","v":12.2},{"t":"2020-08-28 23","v":14.8},{"t":"2020-08-29 10","v":15.7},{"t":"2020-08-29 17","v":14.8},{"t":"2020-08-30 00","v":13.3},{"t":"2020-08-30 04","v":11.4},{"t":"2020-08-31 06","v":11.3},{"t":"2020-09-01 01","v":11.1},{"t":"2020-09-01 12","v":10.7},{"t":"2020-09-01 23","v":9.6},{"t":"2020-09-02 09","v":8.1},{"t":"2020-09-02 21","v":8.9},{"t":"2020-09-03 08","v":9.2},{"t":"2020-09-03 20","v":8.1},{"t":"2020-09-04 07","v":7.7},{"t":"2020-09-04 16","v":10.0},{"t":"2020-09-05 01","v":6.3},{"t":"2020-09-05 12","v":5.9},{"t":"2020-09-05 20","v":5.5},{"t":"2020-09-06 07","v":7.0},{"t":"2020-09-06 18","v":7.7},{"t":"2020-09-07 05","v":8.9},{"t":"2020-09-07 16","v":7.4},{"t":"2020-09-08 04","v":7.7},{"t":"2020-09-08 15","v":8.1},{"t":"2020-09-09 06","v":8.3},{"t":"2020-09-09 17","v":8.5},{"t":"2020-09-09 22","v":10.0},{"t":"2020-09-10 05","v":8.1},{"t":"2020-09-10 19","v":8.1},{"t":"2020-09-11 02","v":9.2},{"t":"2020-09-11 10","v":11.1},{"t":"2020-09-11 21","v":11.8},{"t":"2020-09-12 08","v":12.2},{"t":"2020-09-12 19","v":12.6},{"t":"2020-09-13 08","v":14.8},{"t":"2020-09-13 17","v":13.3},{"t":"2020-09-14 04","v":12.2},{"t":"2020-09-14 16","v":12.9},{"t":"2020-09-15 01","v":13.9},{"t":"2020-09-15 10","v":12.2},{"t":"2020-09-15 16","v":13.1}
    ],
    "risk": [
      {"t":"2020-05-04 23","v":0},{"t":"2020-05-05 02","v":-1.2},{"t":"2020-05-05 06","v":1.0},{"t":"2020-05-05 10","v":-0.4},{"t":"2020-05-05 16","v":-0.9},{"t":"2020-05-05 22","v":-1.9},{"t":"2020-05-06 06","v":-1.9},{"t":"2020-05-06 14","v":-3.0},{"t":"2020-05-06 18","v":-4.7},{"t":"2020-05-07 00","v":-4.5},{"t":"2020-05-07 06","v":-5.4},{"t":"2020-05-07 11","v":-4.2},{"t":"2020-05-07 18","v":-5.7},{"t":"2020-05-08 00","v":-4.9},{"t":"2020-05-08 06","v":-6.8},{"t":"2020-05-08 11","v":-7.8},{"t":"2020-05-08 17","v":-5.9},{"t":"2020-05-08 23","v":-6.6},{"t":"2020-05-09 05","v":-3.5},{"t":"2020-05-09 11","v":-6.1},{"t":"2020-05-09 17","v":-3.5},{"t":"2020-05-09 22","v":-4.9},{"t":"2020-05-10 03","v":-2.1},{"t":"2020-05-10 07","v":-0.2},{"t":"2020-05-10 12","v":3.3},{"t":"2020-05-10 15","v":1.7},{"t":"2020-05-10 20","v":3.1},{"t":"2020-05-11 00","v":11.8},{"t":"2020-05-11 04","v":7.8},{"t":"2020-05-11 08","v":9.0},{"t":"2020-05-11 11","v":10.2},{"t":"2020-05-11 14","v":5.5},{"t":"2020-05-11 18","v":5.9},{"t":"2020-05-11 23","v":3.8},{"t":"2020-05-12 05","v":4.0},{"t":"2020-05-12 10","v":3.1},{"t":"2020-05-12 17","v":2.2},{"t":"2020-05-13 00","v":1.2},{"t":"2020-05-13 08","v":-0.4},{"t":"2020-05-13 15","v":1.7},{"t":"2020-05-13 20","v":2.2},{"t":"2020-05-14 02","v":5.5},{"t":"2020-05-14 06","v":7.6},{"t":"2020-05-14 10","v":4.8},{"t":"2020-05-14 15","v":8.1},{"t":"2020-05-14 18","v":7.8},{"t":"2020-05-14 23","v":3.6},{"t":"2020-05-15 04","v":2.6},{"t":"2020-05-15 10","v":3.3},{"t":"2020-05-15 16","v":2.6},{"t":"2020-05-15 22","v":1.7},{"t":"2020-05-16 01","v":4.5},{"t":"2020-05-16 08","v":1.2},{"t":"2020-05-16 14","v":2.4},{"t":"2020-05-16 20","v":2.6},{"t":"2020-05-16 23","v":1.7},{"t":"2020-05-17 05","v":-0.2},{"t":"2020-05-17 16","v":-0.3},{"t":"2020-05-18 07","v":-0.4},{"t":"2020-05-18 15","v":-0.6},{"t":"2020-05-18 23","v":-0.9},{"t":"2020-05-19 06","v":-0.2},{"t":"2020-05-19 11","v":-1.2},{"t":"2020-05-19 17","v":0.7},{"t":"2020-05-19 22","v":-0.4},{"t":"2020-05-20 03","v":-0.9},{"t":"2020-05-20 09","v":-0.2},{"t":"2020-05-20 15","v":-1.4},{"t":"2020-05-20 21","v":0.5},{"t":"2020-05-21 03","v":-0.9},{"t":"2020-05-21 07","v":-2.1},{"t":"2020-05-21 13","v":-2.8},{"t":"2020-05-21 23","v":-2.9},{"t":"2020-05-22 07","v":-2.6},{"t":"2020-05-22 13","v":-3.0},{"t":"2020-05-22 19","v":-2.6},{"t":"2020-05-23 00","v":-3.5},{"t":"2020-05-23 06","v":-4.5},{"t":"2020-05-23 11","v":-3.5},{"t":"2020-05-23 16","v":-4.0},{"t":"2020-05-23 21","v":-3.0},{"t":"2020-05-24 00","v":-0.7},{"t":"2020-05-24 05","v":0.7},{"t":"2020-05-24 10","v":-0.2},{"t":"2020-05-24 16","v":1.4},{"t":"2020-05-24 22","v":-0.2},{"t":"2020-05-25 02","v":3.6},{"t":"2020-05-25 08","v":5.9},{"t":"2020-05-25 12","v":4.5},{"t":"2020-05-25 17","v":6.9},{"t":"2020-05-25 22","v":3.6},{"t":"2020-05-26 04","v":4.5},{"t":"2020-05-26 10","v":3.3},{"t":"2020-05-26 16","v":5.2},{"t":"2020-05-26 22","v":6.2},{"t":"2020-05-27 04","v":4.8},{"t":"2020-05-27 10","v":5.7},{"t":"2020-05-27 15","v":6.6},{"t":"2020-05-27 22","v":4.0},{"t":"2020-05-28 04","v":5.0},{"t":"2020-05-28 10","v":6.4},{"t":"2020-05-28 15","v":5.0},{"t":"2020-05-28 22","v":5.7},{"t":"2020-05-29 04","v":6.6},{"t":"2020-05-29 09","v":5.0},{"t":"2020-05-29 12","v":7.8},{"t":"2020-05-29 14","v":17.3},{"t":"2020-05-29 17","v":13.5},{"t":"2020-05-29 21","v":14.4},{"t":"2020-05-30 01","v":14.0},{"t":"2020-05-30 04","v":14.8},{"t":"2020-05-30 06","v":5.6},{"t":"2020-05-30 13","v":5.6},{"t":"2020-05-31 05","v":5.6},{"t":"2020-05-31 17","v":5.7},{"t":"2020-06-01 01","v":6.6},{"t":"2020-06-01 06","v":7.6},{"t":"2020-06-01 13","v":6.9},{"t":"2020-06-01 19","v":5.9},{"t":"2020-06-02 01","v":6.4},{"t":"2020-06-02 09","v":4.8},{"t":"2020-06-02 14","v":3.8},{"t":"2020-06-02 21","v":4.5},{"t":"2020-06-03 03","v":5.0},{"t":"2020-06-03 08","v":3.8},{"t":"2020-06-03 14","v":5.2},{"t":"2020-06-03 20","v":4.0},{"t":"2020-06-04 04","v":3.1},{"t":"2020-06-04 12","v":4.5},{"t":"2020-06-04 20","v":3.1},{"t":"2020-06-05 04","v":3.6},{"t":"2020-06-05 12","v":2.6},{"t":"2020-06-05 20","v":3.6},{"t":"2020-06-06 02","v":2.6},{"t":"2020-06-06 08","v":3.1},{"t":"2020-06-06 13","v":4.3},{"t":"2020-06-06 20","v":2.9},{"t":"2020-06-07 04","v":3.3},{"t":"2020-06-07 10","v":6.4},{"t":"2020-06-07 16","v":4.5},{"t":"2020-06-07 21","v":3.8},{"t":"2020-06-08 02","v":3.1},{"t":"2020-06-08 06","v":0.0},{"t":"2020-06-08 15","v":0.1},{"t":"2020-06-09 03","v":0.3},{"t":"2020-06-09 11","v":-0.2},{"t":"2020-06-09 19","v":0.0},{"t":"2020-06-10 03","v":-0.2},{"t":"2020-06-10 11","v":-0.4},{"t":"2020-06-10 19","v":0.0},{"t":"2020-06-11 03","v":-0.3},{"t":"2020-06-11 11","v":-0.4},{"t":"2020-06-11 19","v":-1.2},{"t":"2020-06-12 00","v":-1.7},{"t":"2020-06-12 07","v":0.3},{"t":"2020-06-12 12","v":2.2},{"t":"2020-06-12 17","v":1.2},{"t":"2020-06-12 23","v":2.6},{"t":"2020-06-13 04","v":1.2},{"t":"2020-06-13 11","v":1.7},{"t":"2020-06-13 17","v":0.7},{"t":"2020-06-14 02","v":0.3},{"t":"2020-06-14 10","v":-0.2},{"t":"2020-06-14 18","v":-0.4},{"t":"2020-06-15 06","v":-0.7},{"t":"2020-06-15 18","v":-1.2},{"t":"2020-06-16 06","v":-1.6},{"t":"2020-06-16 14","v":-1.4},{"t":"2020-06-16 22","v":-2.1},{"t":"2020-06-17 06","v":-1.6},{"t":"2020-06-17 14","v":-1.7},{"t":"2020-06-17 22","v":-1.4},{"t":"2020-06-18 06","v":-1.9},{"t":"2020-06-18 15","v":-2.1},{"t":"2020-06-18 21","v":-0.7},{"t":"2020-06-19 06","v":0.5},{"t":"2020-06-19 11","v":3.1},{"t":"2020-06-19 16","v":2.2},{"t":"2020-06-19 21","v":2.6},{"t":"2020-06-20 03","v":2.3},{"t":"2020-06-20 09","v":2.4},{"t":"2020-06-20 16","v":1.5},{"t":"2020-06-20 21","v":2.0},{"t":"2020-06-21 01","v":-1.3},{"t":"2020-06-21 09","v":-1.5},{"t":"2020-06-21 16","v":-2.3},{"t":"2020-06-21 23","v":-1.5},{"t":"2020-06-22 10","v":-1.9},{"t":"2020-06-22 21","v":-2.3},{"t":"2020-06-23 08","v":-2.6},{"t":"2020-06-23 20","v":-2.4},{"t":"2020-06-24 07","v":-3.2},{"t":"2020-06-24 14","v":-3.4},{"t":"2020-06-24 21","v":-3.0},{"t":"2020-06-25 05","v":-1.9},{"t":"2020-06-25 12","v":-2.6},{"t":"2020-06-25 19","v":-1.5},{"t":"2020-06-26 03","v":-3.0},{"t":"2020-06-26 10","v":-0.8},{"t":"2020-06-26 18","v":-2.3},{"t":"2020-06-27 01","v":-1.5},{"t":"2020-06-27 08","v":-2.3},{"t":"2020-06-27 16","v":-1.9},{"t":"2020-06-27 23","v":-1.5},{"t":"2020-06-28 09","v":0.0},{"t":"2020-06-28 18","v":-0.8},{"t":"2020-06-29 01","v":-1.1},{"t":"2020-06-29 06","v":-3.6},{"t":"2020-06-29 19","v":-3.6},{"t":"2020-06-30 10","v":-3.6},{"t":"2020-07-01 05","v":-3.7},{"t":"2020-07-01 12","v":-4.5},{"t":"2020-07-01 19","v":-4.1},{"t":"2020-07-02 03","v":-5.2},{"t":"2020-07-02 10","v":-6.3},{"t":"2020-07-02 17","v":-3.7},{"t":"2020-07-03 01","v":-2.3},{"t":"2020-07-03 06","v":-3.0},{"t":"2020-07-03 12","v":-0.8},{"t":"2020-07-03 19","v":-2.3},{"t":"2020-07-04 02","v":-1.5},{"t":"2020-07-04 10","v":-3.0},{"t":"2020-07-04 17","v":-2.3},{"t":"2020-07-05 01","v":-1.5},{"t":"2020-07-05 08","v":0.1},{"t":"2020-07-05 15","v":-0.8},{"t":"2020-07-05 23","v":-0.4},{"t":"2020-07-06 06","v":-3.4},{"t":"2020-07-06 17","v":-3.4},{"t":"2020-07-07 04","v":-3.0},{"t":"2020-07-07 15","v":-2.6},{"t":"2020-07-08 02","v":-3.4},{"t":"2020-07-08 11","v":-2.6},{"t":"2020-07-08 21","v":-3.0},{"t":"2020-07-09 08","v":-2.3},{"t":"2020-07-09 19","v":-3.0},{"t":"2020-07-10 04","v":-2.6},{"t":"2020-07-10 13","v":-3.7},{"t":"2020-07-11 00","v":-4.1},{"t":"2020-07-11 11","v":-3.7},{"t":"2020-07-11 22","v":-3.9},{"t":"2020-07-12 13","v":-4.1},{"t":"2020-07-13 00","v":-5.4},{"t":"2020-07-13 11","v":-5.0},{"t":"2020-07-13 22","v":-4.9},{"t":"2020-07-14 09","v":-4.7},{"t":"2020-07-14 20","v":-4.5},{"t":"2020-07-15 07","v":-4.7},{"t":"2020-07-15 18","v":-4.5},{"t":"2020-07-16 06","v":-4.7},{"t":"2020-07-16 17","v":-4.3},{"t":"2020-07-17 04","v":-4.7},{"t":"2020-07-17 18","v":-4.5},{"t":"2020-07-18 02","v":-2.6},{"t":"2020-07-18 09","v":-1.9},{"t":"2020-07-18 17","v":-3.0},{"t":"2020-07-19 04","v":-2.3},{"t":"2020-07-19 11","v":-1.5},{"t":"2020-07-19 15","v":0.0},{"t":"2020-07-19 22","v":-0.4},{"t":"2020-07-20 08","v":1.4},{"t":"2020-07-20 17","v":0.3},{"t":"2020-07-20 23","v":-0.4},{"t":"2020-07-21 07","v":0.7},{"t":"2020-07-21 18","v":1.1},{"t":"2020-07-22 05","v":0.7},{"t":"2020-07-22 11","v":2.6},{"t":"2020-07-22 18","v":2.2},{"t":"2020-07-22 23","v":3.7},{"t":"2020-07-23 03","v":7.7},{"t":"2020-07-23 09","v":5.9},{"t":"2020-07-23 14","v":9.2},{"t":"2020-07-23 20","v":11.8},{"t":"2020-07-24 00","v":9.6},{"t":"2020-07-24 05","v":14.8},{"t":"2020-07-24 09","v":20.7},{"t":"2020-07-24 12","v":17.7},{"t":"2020-07-24 14","v":27.7},{"t":"2020-07-24 18","v":20.7},{"t":"2020-07-24 22","v":19.2},{"t":"2020-07-25 03","v":22.6},{"t":"2020-07-25 09","v":18.5},{"t":"2020-07-25 14","v":23.3},{"t":"2020-07-25 20","v":20.0},{"t":"2020-07-26 01","v":24.0},{"t":"2020-07-26 07","v":20.7},{"t":"2020-07-26 12","v":22.6},{"t":"2020-07-26 20","v":20.3},{"t":"2020-07-27 03","v":20.0},{"t":"2020-07-27 11","v":21.8},{"t":"2020-07-27 18","v":20.7},{"t":"2020-07-28 01","v":23.3},{"t":"2020-07-28 07","v":25.5},{"t":"2020-07-28 12","v":23.7},{"t":"2020-07-28 18","v":26.3},{"t":"2020-07-28 22","v":30.3},{"t":"2020-07-29 02","v":27.7},{"t":"2020-07-29 07","v":29.6},{"t":"2020-07-29 11","v":31.8},{"t":"2020-07-29 16","v":34.0},{"t":"2020-07-29 19","v":35.7},{"t":"2020-07-29 21","v":22.2},{"t":"2020-07-30 05","v":22.2},{"t":"2020-07-30 20","v":22.2},{"t":"2020-07-31 03","v":22.4},{"t":"2020-07-31 08","v":24.2},{"t":"2020-07-31 14","v":23.3},{"t":"2020-07-31 19","v":21.8},{"t":"2020-08-01 01","v":21.1},{"t":"2020-08-01 05","v":20.0},{"t":"2020-08-01 12","v":20.0},{"t":"2020-08-01 20","v":20.3},{"t":"2020-08-02 01","v":21.8},{"t":"2020-08-02 07","v":25.5},{"t":"2020-08-02 12","v":24.4},{"t":"2020-08-02 18","v":26.6},{"t":"2020-08-03 01","v":25.5},{"t":"2020-08-03 08","v":28.1},{"t":"2020-08-03 14","v":26.3},{"t":"2020-08-03 18","v":27.7},{"t":"2020-08-03 23","v":25.5},{"t":"2020-08-04 06","v":22.9},{"t":"2020-08-04 14","v":23.3},{"t":"2020-08-04 23","v":23.7},{"t":"2020-08-05 06","v":23.3},{"t":"2020-08-05 14","v":22.9},{"t":"2020-08-05 21","v":23.7},{"t":"2020-08-06 05","v":22.2},{"t":"2020-08-06 10","v":21.1},{"t":"2020-08-06 14","v":22.9},{"t":"2020-08-06 17","v":27.4},{"t":"2020-08-06 21","v":25.9},{"t":"2020-08-07 01","v":26.6},{"t":"2020-08-07 05","v":23.3},{"t":"2020-08-07 10","v":22.6},{"t":"2020-08-07 16","v":22.9},{"t":"2020-08-07 22","v":21.4},{"t":"2020-08-08 03","v":19.6},{"t":"2020-08-08 07","v":18.5},{"t":"2020-08-08 12","v":18.3},{"t":"2020-08-08 20","v":18.3},{"t":"2020-08-09 03","v":19.2},{"t":"2020-08-09 11","v":18.9},{"t":"2020-08-09 16","v":19.6},{"t":"2020-08-09 22","v":18.1},{"t":"2020-08-10 03","v":16.6},{"t":"2020-08-10 09","v":17.7},{"t":"2020-08-10 14","v":20.3},{"t":"2020-08-10 20","v":19.2},{"t":"2020-08-11 02","v":20.0},{"t":"2020-08-11 07","v":20.7},{"t":"2020-08-11 12","v":22.2},{"t":"2020-08-11 18","v":21.1},{"t":"2020-08-12 00","v":22.2},{"t":"2020-08-12 07","v":20.7},{"t":"2020-08-12 13","v":21.4},{"t":"2020-08-12 20","v":20.3},{"t":"2020-08-13 04","v":20.7},{"t":"2020-08-13 11","v":20.0},{"t":"2020-08-13 19","v":20.7},{"t":"2020-08-14 01","v":20.3},{"t":"2020-08-14 06","v":27.7},{"t":"2020-08-14 11","v":25.9},{"t":"2020-08-14 15","v":27.4},{"t":"2020-08-14 21","v":25.5},{"t":"2020-08-15 03","v":25.9},{"t":"2020-08-15 06","v":22.2},{"t":"2020-08-15 15","v":22.2},{"t":"2020-08-16 02","v":22.2},{"t":"2020-08-16 17","v":22.0},{"t":"2020-08-17 04","v":22.2},{"t":"2020-08-17 16","v":22.4},{"t":"2020-08-17 23","v":22.0},{"t":"2020-08-18 06","v":21.4},{"t":"2020-08-18 14","v":20.9},{"t":"2020-08-19 01","v":20.9},{"t":"2020-08-19 12","v":21.1},{"t":"2020-08-19 23","v":20.5},{"t":"2020-08-20 10","v":21.4},{"t":"2020-08-20 18","v":21.4},{"t":"2020-08-21 01","v":22.4},{"t":"2020-08-21 09","v":22.0},{"t":"2020-08-21 16","v":21.4},{"t":"2020-08-21 23","v":20.3},{"t":"2020-08-22 07","v":18.3},{"t":"2020-08-22 18","v":18.3},{"t":"2020-08-23 05","v":18.5},{"t":"2020-08-23 12","v":19.0},{"t":"2020-08-23 20","v":18.3},{"t":"2020-08-24 03","v":19.2},{"t":"2020-08-24 07","v":14.8},{"t":"2020-08-24 18","v":15.5},{"t":"2020-08-25 06","v":16.3},{"t":"2020-08-25 17","v":16.6},{"t":"2020-08-26 04","v":17.0},{"t":"2020-08-26 15","v":17.4},{"t":"2020-08-27 02","v":18.1},{"t":"2020-08-27 13","v":18.5},{"t":"2020-08-28 00","v":19.2},{"t":"2020-08-28 10","v":18.5},{"t":"2020-08-28 15","v":19.6},{"t":"2020-08-28 23","v":21.8},{"t":"2020-08-29 06","v":22.9},{"t":"2020-08-29 11","v":23.3},{"t":"2020-08-29 17","v":21.4},{"t":"2020-08-29 23","v":19.2},{"t":"2020-08-30 04","v":16.8},{"t":"2020-08-30 15","v":16.8},{"t":"2020-08-31 02","v":16.6},{"t":"2020-08-31 14","v":16.3},{"t":"2020-09-01 01","v":16.1},{"t":"2020-09-01 07","v":15.1},{"t":"2020-09-01 12","v":17.4},{"t":"2020-09-01 18","v":15.5},{"t":"2020-09-01 23","v":15.9},{"t":"2020-09-02 04","v":13.3},{"t":"2020-09-02 10","v":11.8},{"t":"2020-09-02 18","v":12.9},{"t":"2020-09-03 01","v":12.2},{"t":"2020-09-03 08","v":13.7},{"t":"2020-09-03 16","v":12.6},{"t":"2020-09-03 23","v":11.8},{"t":"2020-09-04 05","v":11.1},{"t":"2020-09-04 11","v":12.6},{"t":"2020-09-04 16","v":15.1},{"t":"2020-09-04 20","v":12.6},{"t":"2020-09-05 00","v":9.2},{"t":"2020-09-05 06","v":8.9},{"t":"2020-09-05 12","v":9.2},{"t":"2020-09-05 18","v":7.7},{"t":"2020-09-05 23","v":9.2},{"t":"2020-09-06 07","v":10.3},{"t":"2020-09-06 14","v":11.8},{"t":"2020-09-06 20","v":12.9},{"t":"2020-09-07 02","v":11.1},{"t":"2020-09-07 07","v":13.3},{"t":"2020-09-07 15","v":11.1},{"t":"2020-09-07 22","v":10.7},{"t":"2020-09-08 06","v":11.8},{"t":"2020-09-08 13","v":11.1},{"t":"2020-09-08 21","v":12.2},{"t":"2020-09-09 06","v":11.8},{"t":"2020-09-09 13","v":12.9},{"t":"2020-09-09 20","v":14.8},{"t":"2020-09-10 02","v":14.0},{"t":"2020-09-10 07","v":11.4},{"t":"2020-09-10 15","v":11.8},{"t":"2020-09-10 22","v":12.2},{"t":"2020-09-11 04","v":15.9},{"t":"2020-09-11 10","v":17.7},{"t":"2020-09-11 16","v":16.3},{"t":"2020-09-11 21","v":17.0},{"t":"2020-09-12 04","v":19.6},{"t":"2020-09-12 12","v":17.7},{"t":"2020-09-12 18","v":16.3},{"t":"2020-09-13 00","v":19.2},{"t":"2020-09-13 08","v":22.0},{"t":"2020-09-13 13","v":20.7},{"t":"2020-09-13 21","v":19.6},{"t":"2020-09-14 04","v":17.4},{"t":"2020-09-14 12","v":19.2},{"t":"2020-09-14 19","v":20.0},{"t":"2020-09-15 03","v":20.7},{"t":"2020-09-15 09","v":18.1},{"t":"2020-09-15 16","v":19.6}
    ],
    "btc": [
      {"t":"2020-05-04 23","v":0},{"t":"2020-05-05 06","v":1.0},{"t":"2020-05-05 12","v":0.7},{"t":"2020-05-05 18","v":-0.7},{"t":"2020-05-06 00","v":-3.0},{"t":"2020-05-06 06","v":-1.2},{"t":"2020-05-06 10","v":-2.6},{"t":"2020-05-06 14","v":-16.9},{"t":"2020-05-06 18","v":-10.6},{"t":"2020-05-06 22","v":-12.5},{"t":"2020-05-07 02","v":-11.6},{"t":"2020-05-07 07","v":-16.4},{"t":"2020-05-07 12","v":-11.3},{"t":"2020-05-07 18","v":-13.2},{"t":"2020-05-07 23","v":-11.8},{"t":"2020-05-08 02","v":-7.8},{"t":"2020-05-08 09","v":-17.0},{"t":"2020-05-08 13","v":-13.0},{"t":"2020-05-08 19","v":-12.0},{"t":"2020-05-09 01","v":-11.3},{"t":"2020-05-09 08","v":-9.7},{"t":"2020-05-09 13","v":-10.4},{"t":"2020-05-09 19","v":-9.4},{"t":"2020-05-10 01","v":-8.3},{"t":"2020-05-10 07","v":-7.3},{"t":"2020-05-10 13","v":-5.7},{"t":"2020-05-10 18","v":-5.9},{"t":"2020-05-10 23","v":0.3},{"t":"2020-05-11 03","v":-3.0},{"t":"2020-05-11 09","v":-0.4},{"t":"2020-05-11 14","v":-2.1},{"t":"2020-05-11 21","v":-4.2},{"t":"2020-05-12 05","v":-4.0},{"t":"2020-05-12 11","v":-7.3},{"t":"2020-05-12 17","v":-4.0},{"t":"2020-05-13 00","v":-4.9},{"t":"2020-05-13 08","v":-6.4},{"t":"2020-05-13 16","v":-4.2},{"t":"2020-05-14 00","v":-2.1},{"t":"2020-05-14 07","v":-0.4},{"t":"2020-05-14 12","v":-2.3},{"t":"2020-05-14 18","v":0.3},{"t":"2020-05-15 00","v":-1.9},{"t":"2020-05-15 08","v":-1.9},{"t":"2020-05-15 16","v":-2.8},{"t":"2020-05-16 00","v":-0.2},{"t":"2020-05-16 08","v":-1.4},{"t":"2020-05-16 16","v":-1.2},{"t":"2020-05-16 22","v":-0.9},{"t":"2020-05-17 04","v":-3.0},{"t":"2020-05-17 09","v":-3.3},{"t":"2020-05-17 16","v":-3.8},{"t":"2020-05-17 22","v":-4.5},{"t":"2020-05-18 04","v":-7.1},{"t":"2020-05-18 09","v":-10.9},{"t":"2020-05-18 15","v":-8.3},{"t":"2020-05-18 23","v":-7.5},{"t":"2020-05-19 07","v":-6.8},{"t":"2020-05-19 15","v":-6.1},{"t":"2020-05-19 23","v":-7.1},{"t":"2020-05-20 07","v":-6.6},{"t":"2020-05-20 15","v":-6.8},{"t":"2020-05-20 21","v":-6.4},{"t":"2020-05-21 03","v":-7.8},{"t":"2020-05-21 09","v":-8.3},{"t":"2020-05-21 13","v":-12.3},{"t":"2020-05-21 19","v":-10.9},{"t":"2020-05-22 00","v":-11.8},{"t":"2020-05-22 07","v":-9.9},{"t":"2020-05-22 15","v":-10.6},{"t":"2020-05-22 23","v":-9.4},{"t":"2020-05-23 06","v":-11.8},{"t":"2020-05-23 14","v":-10.6},{"t":"2020-05-23 21","v":-10.1},{"t":"2020-05-24 02","v":-7.3},{"t":"2020-05-24 10","v":-7.8},{"t":"2020-05-24 18","v":-7.1},{"t":"2020-05-25 02","v":-4.9},{"t":"2020-05-25 10","v":-4.2},{"t":"2020-05-25 16","v":-3.5},{"t":"2020-05-25 22","v":-4.7},{"t":"2020-05-26 06","v":-4.9},{"t":"2020-05-26 14","v":-5.4},{"t":"2020-05-26 20","v":-3.5},{"t":"2020-05-27 04","v":-4.0},{"t":"2020-05-27 12","v":-2.6},{"t":"2020-05-27 20","v":-4.0},{"t":"2020-05-28 06","v":-4.7},{"t":"2020-05-28 13","v":-3.5},{"t":"2020-05-28 22","v":-3.3},{"t":"2020-05-29 06","v":-2.8},{"t":"2020-05-29 12","v":-2.6},{"t":"2020-05-29 15","v":4.3},{"t":"2020-05-29 18","v":2.2},{"t":"2020-05-29 21","v":2.6},{"t":"2020-05-30 02","v":2.4},{"t":"2020-05-30 05","v":-5.4},{"t":"2020-05-30 09","v":-3.8},{"t":"2020-05-30 17","v":-4.0},{"t":"2020-05-31 01","v":-3.3},{"t":"2020-05-31 09","v":-3.0},{"t":"2020-05-31 17","v":-2.3},{"t":"2020-06-01 01","v":-2.8},{"t":"2020-06-01 09","v":-0.9},{"t":"2020-06-01 17","v":-1.2},{"t":"2020-06-02 01","v":-1.9},{"t":"2020-06-02 09","v":-3.0},{"t":"2020-06-02 14","v":-3.8},{"t":"2020-06-02 21","v":-2.3},{"t":"2020-06-03 05","v":-1.9},{"t":"2020-06-03 12","v":-2.1},{"t":"2020-06-03 20","v":-1.6},{"t":"2020-06-04 03","v":-4.7},{"t":"2020-06-04 08","v":-1.4},{"t":"2020-06-04 16","v":-1.9},{"t":"2020-06-05 00","v":-1.4},{"t":"2020-06-05 08","v":-1.9},{"t":"2020-06-05 16","v":-1.2},{"t":"2020-06-06 00","v":-1.9},{"t":"2020-06-06 08","v":-1.4},{"t":"2020-06-06 16","v":-1.6},{"t":"2020-06-07 00","v":-1.2},{"t":"2020-06-07 08","v":-0.2},{"t":"2020-06-07 12","v":0.7},{"t":"2020-06-07 20","v":-0.7},{"t":"2020-06-08 02","v":-1.2},{"t":"2020-06-08 07","v":-8.0},{"t":"2020-06-08 12","v":-5.7},{"t":"2020-06-08 19","v":-4.9},{"t":"2020-06-09 03","v":-4.5},{"t":"2020-06-09 11","v":-4.7},{"t":"2020-06-09 19","v":-4.5},{"t":"2020-06-10 03","v":-4.9},{"t":"2020-06-10 11","v":-4.7},{"t":"2020-06-10 19","v":-4.9},{"t":"2020-06-11 03","v":-5.2},{"t":"2020-06-11 11","v":-5.9},{"t":"2020-06-11 19","v":-7.3},{"t":"2020-06-11 23","v":-9.8},{"t":"2020-06-12 03","v":-7.3},{"t":"2020-06-12 11","v":-6.1},{"t":"2020-06-12 19","v":-3.8},{"t":"2020-06-13 03","v":-4.0},{"t":"2020-06-13 11","v":-4.9},{"t":"2020-06-13 18","v":-4.2},{"t":"2020-06-14 02","v":-4.5},{"t":"2020-06-14 10","v":-5.4},{"t":"2020-06-14 18","v":-4.9},{"t":"2020-06-15 02","v":-4.9},{"t":"2020-06-15 10","v":-5.4},{"t":"2020-06-15 18","v":-6.1},{"t":"2020-06-16 02","v":-5.2},{"t":"2020-06-16 10","v":-5.9},{"t":"2020-06-16 18","v":-6.1},{"t":"2020-06-17 02","v":-5.7},{"t":"2020-06-17 10","v":-5.4},{"t":"2020-06-17 18","v":-5.2},{"t":"2020-06-18 02","v":-5.4},{"t":"2020-06-18 10","v":-5.7},{"t":"2020-06-18 15","v":-6.1},{"t":"2020-06-18 21","v":-4.7},{"t":"2020-06-19 06","v":-2.8},{"t":"2020-06-19 13","v":-2.8},{"t":"2020-06-19 21","v":-2.3},{"t":"2020-06-20 05","v":-2.6},{"t":"2020-06-20 13","v":-2.3},{"t":"2020-06-20 21","v":-3.0},{"t":"2020-06-21 01","v":-5.7},{"t":"2020-06-21 09","v":-6.3},{"t":"2020-06-21 17","v":-8.7},{"t":"2020-06-21 23","v":-6.7},{"t":"2020-06-22 10","v":-7.1},{"t":"2020-06-23 01","v":-7.1},{"t":"2020-06-23 12","v":-7.6},{"t":"2020-06-24 03","v":-7.8},{"t":"2020-06-24 10","v":-10.4},{"t":"2020-06-24 18","v":-8.6},{"t":"2020-06-25 05","v":-7.4},{"t":"2020-06-25 19","v":-7.8},{"t":"2020-06-26 06","v":-7.4},{"t":"2020-06-26 18","v":-7.1},{"t":"2020-06-27 08","v":-7.8},{"t":"2020-06-27 23","v":-7.4},{"t":"2020-06-28 09","v":-6.3},{"t":"2020-06-28 21","v":-6.7},{"t":"2020-06-29 05","v":-6.5},{"t":"2020-06-29 08","v":-9.3},{"t":"2020-06-29 16","v":-7.8},{"t":"2020-06-30 10","v":-8.0},{"t":"2020-07-01 01","v":-8.4},{"t":"2020-07-01 12","v":-7.4},{"t":"2020-07-01 23","v":-8.6},{"t":"2020-07-02 12","v":-9.7},{"t":"2020-07-02 21","v":-7.8},{"t":"2020-07-03 08","v":-5.6},{"t":"2020-07-03 19","v":-6.0},{"t":"2020-07-04 10","v":-6.0},{"t":"2020-07-05 01","v":-5.6},{"t":"2020-07-05 09","v":-4.5},{"t":"2020-07-05 19","v":-4.9},{"t":"2020-07-06 06","v":-6.9},{"t":"2020-07-06 21","v":-7.4},{"t":"2020-07-07 12","v":-6.3},{"t":"2020-07-08 02","v":-6.7},{"t":"2020-07-08 17","v":-6.3},{"t":"2020-07-09 08","v":-7.1},{"t":"2020-07-09 15","v":-6.0},{"t":"2020-07-10 06","v":-6.5},{"t":"2020-07-10 21","v":-6.7},{"t":"2020-07-11 11","v":-6.7},{"t":"2020-07-12 06","v":-7.1},{"t":"2020-07-12 17","v":-7.1},{"t":"2020-07-13 00","v":-8.4},{"t":"2020-07-13 15","v":-7.8},{"t":"2020-07-14 06","v":-7.6},{"t":"2020-07-14 20","v":-7.4},{"t":"2020-07-15 11","v":-7.3},{"t":"2020-07-16 02","v":-7.8},{"t":"2020-07-16 17","v":-7.1},{"t":"2020-07-17 07","v":-7.4},{"t":"2020-07-17 18","v":-7.3},{"t":"2020-07-18 02","v":-5.4},{"t":"2020-07-18 17","v":-5.4},{"t":"2020-07-19 07","v":-5.6},{"t":"2020-07-19 15","v":-3.9},{"t":"2020-07-20 02","v":-3.7},{"t":"2020-07-20 13","v":-3.0},{"t":"2020-07-21 00","v":-3.7},{"t":"2020-07-21 15","v":-3.0},{"t":"2020-07-22 05","v":-2.6},{"t":"2020-07-22 16","v":-2.3},{"t":"2020-07-23 00","v":0.0},{"t":"2020-07-23 07","v":-0.4},{"t":"2020-07-23 14","v":1.8},{"t":"2020-07-23 20","v":4.0},{"t":"2020-07-24 01","v":5.1},{"t":"2020-07-24 07","v":9.6},{"t":"2020-07-24 12","v":11.8},{"t":"2020-07-24 18","v":12.9},{"t":"2020-07-24 23","v":7.0},{"t":"2020-07-25 06","v":12.6},{"t":"2020-07-25 11","v":11.1},{"t":"2020-07-25 18","v":12.6},{"t":"2020-07-26 01","v":11.4},{"t":"2020-07-26 09","v":12.6},{"t":"2020-07-26 16","v":13.3},{"t":"2020-07-26 23","v":11.1},{"t":"2020-07-27 07","v":11.8},{"t":"2020-07-27 14","v":12.9},{"t":"2020-07-27 22","v":12.6},{"t":"2020-07-28 05","v":14.8},{"t":"2020-07-28 12","v":16.3},{"t":"2020-07-28 20","v":17.0},{"t":"2020-07-29 03","v":17.7},{"t":"2020-07-29 11","v":19.2},{"t":"2020-07-29 17","v":20.3},{"t":"2020-07-29 19","v":8.1},{"t":"2020-07-29 22","v":14.4},{"t":"2020-07-30 05","v":12.6},{"t":"2020-07-30 12","v":13.3},{"t":"2020-07-30 23","v":12.9},{"t":"2020-07-31 11","v":14.4},{"t":"2020-07-31 18","v":15.1},{"t":"2020-08-01 05","v":12.6},{"t":"2020-08-01 16","v":13.7},{"t":"2020-08-01 23","v":14.8},{"t":"2020-08-02 07","v":17.7},{"t":"2020-08-02 14","v":18.5},{"t":"2020-08-02 21","v":17.7},{"t":"2020-08-03 05","v":19.6},{"t":"2020-08-03 12","v":20.0},{"t":"2020-08-03 19","v":18.5},{"t":"2020-08-04 03","v":17.7},{"t":"2020-08-04 10","v":16.3},{"t":"2020-08-04 18","v":17.4},{"t":"2020-08-05 06","v":18.9},{"t":"2020-08-05 14","v":17.7},{"t":"2020-08-06 01","v":18.1},{"t":"2020-08-06 08","v":17.4},{"t":"2020-08-06 16","v":18.5},{"t":"2020-08-06 20","v":21.4},{"t":"2020-08-07 01","v":14.8},{"t":"2020-08-07 05","v":20.3},{"t":"2020-08-07 14","v":20.0},{"t":"2020-08-07 22","v":18.9},{"t":"2020-08-08 05","v":17.7},{"t":"2020-08-08 10","v":13.3},{"t":"2020-08-08 16","v":14.8},{"t":"2020-08-08 21","v":12.9},{"t":"2020-08-09 03","v":15.9},{"t":"2020-08-09 11","v":16.3},{"t":"2020-08-09 18","v":16.6},{"t":"2020-08-09 23","v":15.1},{"t":"2020-08-10 04","v":17.0},{"t":"2020-08-10 09","v":15.5},{"t":"2020-08-10 14","v":19.2},{"t":"2020-08-10 23","v":18.5},{"t":"2020-08-11 11","v":20.0},{"t":"2020-08-11 22","v":19.6},{"t":"2020-08-12 09","v":20.3},{"t":"2020-08-12 20","v":19.2},{"t":"2020-08-13 04","v":20.0},{"t":"2020-08-13 15","v":19.6},{"t":"2020-08-13 23","v":20.0},{"t":"2020-08-14 06","v":25.1},{"t":"2020-08-14 13","v":24.4},{"t":"2020-08-14 21","v":23.7},{"t":"2020-08-15 04","v":23.3},{"t":"2020-08-15 08","v":20.7},{"t":"2020-08-15 15","v":21.8},{"t":"2020-08-15 21","v":17.7},{"t":"2020-08-16 06","v":18.9},{"t":"2020-08-16 13","v":17.7},{"t":"2020-08-17 01","v":19.2},{"t":"2020-08-17 12","v":19.8},{"t":"2020-08-17 23","v":19.2},{"t":"2020-08-18 06","v":17.7},{"t":"2020-08-18 16","v":15.1},{"t":"2020-08-19 01","v":17.0},{"t":"2020-08-19 12","v":17.4},{"t":"2020-08-19 23","v":16.6},{"t":"2020-08-20 10","v":17.7},{"t":"2020-08-20 21","v":19.2},{"t":"2020-08-21 09","v":18.5},{"t":"2020-08-21 20","v":17.0},{"t":"2020-08-22 03","v":15.1},{"t":"2020-08-22 09","v":12.6},{"t":"2020-08-22 18","v":14.4},{"t":"2020-08-23 01","v":14.0},{"t":"2020-08-23 09","v":16.3},{"t":"2020-08-23 20","v":15.9},{"t":"2020-08-24 03","v":15.1},{"t":"2020-08-24 09","v":12.9},{"t":"2020-08-24 14","v":14.4},{"t":"2020-08-25 02","v":15.9},{"t":"2020-08-25 17","v":16.3},{"t":"2020-08-26 07","v":16.6},{"t":"2020-08-26 22","v":17.4},{"t":"2020-08-27 13","v":18.1},{"t":"2020-08-28 04","v":18.5},{"t":"2020-08-28 15","v":17.7},{"t":"2020-08-28 23","v":20.3},{"t":"2020-08-29 10","v":21.4},{"t":"2020-08-29 17","v":20.7},{"t":"2020-08-29 23","v":19.2},{"t":"2020-08-30 04","v":13.3},{"t":"2020-08-30 12","v":15.1},{"t":"2020-08-30 19","v":15.1},{"t":"2020-08-31 02","v":13.3},{"t":"2020-08-31 06","v":8.1},{"t":"2020-08-31 11","v":6.6},{"t":"2020-08-31 14","v":1.1},{"t":"2020-08-31 19","v":4.0},{"t":"2020-09-01 01","v":5.9},{"t":"2020-09-01 07","v":1.3},{"t":"2020-09-01 12","v":6.3},{"t":"2020-09-01 19","v":4.8},{"t":"2020-09-02 03","v":3.3},{"t":"2020-09-02 10","v":0.0},{"t":"2020-09-02 18","v":2.9},{"t":"2020-09-03 01","v":2.2},{"t":"2020-09-03 08","v":3.3},{"t":"2020-09-03 16","v":2.6},{"t":"2020-09-03 23","v":1.4},{"t":"2020-09-04 05","v":-0.2},{"t":"2020-09-04 11","v":2.9},{"t":"2020-09-04 16","v":5.1},{"t":"2020-09-04 22","v":1.4},{"t":"2020-09-05 04","v":0.3},{"t":"2020-09-05 09","v":2.9},{"t":"2020-09-05 14","v":-0.2},{"t":"2020-09-05 20","v":2.2},{"t":"2020-09-06 03","v":2.9},{"t":"2020-09-06 11","v":3.7},{"t":"2020-09-06 18","v":4.4},{"t":"2020-09-07 02","v":5.1},{"t":"2020-09-07 09","v":4.0},{"t":"2020-09-07 16","v":3.7},{"t":"2020-09-07 23","v":4.0},{"t":"2020-09-08 11","v":4.4},{"t":"2020-09-08 22","v":4.4},{"t":"2020-09-09 09","v":4.4},{"t":"2020-09-09 17","v":4.8},{"t":"2020-09-09 22","v":6.6},{"t":"2020-09-10 04","v":4.4},{"t":"2020-09-10 11","v":3.5},{"t":"2020-09-10 19","v":4.0},{"t":"2020-09-11 02","v":5.9},{"t":"2020-09-11 10","v":7.7},{"t":"2020-09-11 17","v":8.1},{"t":"2020-09-12 00","v":8.9},{"t":"2020-09-12 08","v":9.6},{"t":"2020-09-12 15","v":8.5},{"t":"2020-09-12 23","v":10.0},{"t":"2020-09-13 06","v":11.4},{"t":"2020-09-13 13","v":10.3},{"t":"2020-09-13 21","v":9.6},{"t":"2020-09-14 04","v":8.9},{"t":"2020-09-14 12","v":10.3},{"t":"2020-09-14 19","v":10.0},{"t":"2020-09-15 03","v":11.1},{"t":"2020-09-15 10","v":9.6},{"t":"2020-09-15 16","v":10.3}
    ]
  },
  "resolve": {"axis": {"x": "independent"}},
  "layer": [
    {
      "data": {"name": "single", "format": {"parse": {"t": "date:'%Y-%m-%d %H'"}}},
      "mark": {"type": "line", "strokeWidth": 5, "strokeJoin": "round"},
      "encoding": {
        "x": {
          "field": "t", "type": "temporal",
          "scale": {"domain": [{"year": 2020, "month": 4, "date": 28, "hours": 8}, {"year": 2020, "month": 9, "date": 22, "hours": 7}]},
          "axis": {
            "values": [{"year": 2020, "month": 5, "date": 1}, {"year": 2020, "month": 6, "date": 1}, {"year": 2020, "month": 7, "date": 1}, {"year": 2020, "month": 8, "date": 1}, {"year": 2020, "month": 9, "date": 1}],
            "format": "%d-%m-%Y", "orient": "bottom", "grid": false,
            "labelFontSize": 70, "labelColor": "black", "labelPadding": 9, "labelFlush": false, "labelOverlap": false, "labelLimit": 0,
            "tickSize": 10, "tickWidth": 2.2, "tickColor": "black",
            "domainColor": "black", "domainWidth": 2.2,
            "title": "Time [dd-mm-yyyy]", "titleFontSize": 70, "titleFontWeight": "normal", "titleColor": "black", "titlePadding": 8
          }
        },
        "y": {
          "field": "v", "type": "quantitative",
          "scale": {"domain": [-19.7, 38.45], "nice": false, "zero": false},
          "axis": {
            "values": [-10, 0, 10, 20, 30],
            "labelFontSize": 70, "labelColor": "black", "labelPadding": 14, "labelLimit": 0,
            "tickSize": 10, "tickWidth": 2.2, "tickColor": "black",
            "domainColor": "black", "domainWidth": 2.2,
            "grid": true, "gridColor": "#e4e4e4", "gridWidth": 3.5, "gridDash": [15, 7],
            "title": "asset value change [%]", "titleFontSize": 70, "titleFontWeight": "normal", "titleColor": "black", "titlePadding": 4
          }
        },
        "detail": {"field": "s", "type": "nominal"},
        "color": {
          "datum": "single model strategies", "type": "nominal",
          "scale": {
            "domain": ["single model strategies", "strategy ensemble", "strategy ensemble risk adjusted", "BTC/USDT change"],
            "range": ["rgba(150,100,210,0.24)", "#fdd43b", "#f23d1e", "#778c36"]
          },
          "legend": {
            "orient": "none", "legendX": 49, "legendY": 50, "title": null,
            "labelFontSize": 97, "labelColor": "black", "labelLimit": 0, "labelOffset": 174,
            "symbolType": "M-1,0H3", "symbolSize": 9801, "symbolStrokeWidth": 4.5,
            "rowPadding": 44.5, "padding": 35,
            "fillColor": "rgba(255,255,255,0.8)", "strokeColor": "#d3d3d3", "cornerRadius": 17,
            "encode": {"legend": {"update": {"strokeWidth": {"value": 2}}}}
          }
        }
      }
    },
    {
      "data": {"name": "ens", "format": {"parse": {"t": "date:'%Y-%m-%d %H'"}}},
      "mark": {"type": "line", "strokeWidth": 5.4, "strokeJoin": "round"},
      "encoding": {
        "x": {
          "field": "t", "type": "temporal",
          "axis": {
            "orient": "bottom",
            "values": [{"year": 2020, "month": 5, "date": 5}, {"year": 2020, "month": 5, "date": 12}, {"year": 2020, "month": 5, "date": 19}, {"year": 2020, "month": 5, "date": 26}, {"year": 2020, "month": 6, "date": 2}, {"year": 2020, "month": 6, "date": 9}, {"year": 2020, "month": 6, "date": 16}, {"year": 2020, "month": 6, "date": 23}, {"year": 2020, "month": 6, "date": 30}, {"year": 2020, "month": 7, "date": 7}, {"year": 2020, "month": 7, "date": 14}, {"year": 2020, "month": 7, "date": 21}, {"year": 2020, "month": 7, "date": 28}, {"year": 2020, "month": 8, "date": 4}, {"year": 2020, "month": 8, "date": 11}, {"year": 2020, "month": 8, "date": 18}, {"year": 2020, "month": 8, "date": 25}, {"year": 2020, "month": 9, "date": 8}, {"year": 2020, "month": 9, "date": 15}, {"year": 2020, "month": 9, "date": 22}],
            "labels": false, "domain": false, "grid": false, "title": null,
            "tickSize": 6, "tickWidth": 1.8, "tickColor": "black"
          }
        },
        "y": {"field": "v", "type": "quantitative"},
        "color": {"datum": "strategy ensemble", "type": "nominal"}
      }
    },
    {
      "data": {"name": "risk", "format": {"parse": {"t": "date:'%Y-%m-%d %H'"}}},
      "mark": {"type": "line", "strokeWidth": 5.4, "strokeJoin": "round"},
      "encoding": {
        "x": {"field": "t", "type": "temporal", "axis": null},
        "y": {"field": "v", "type": "quantitative"},
        "color": {"datum": "strategy ensemble risk adjusted", "type": "nominal"}
      }
    },
    {
      "data": {"name": "btc", "format": {"parse": {"t": "date:'%Y-%m-%d %H'"}}},
      "mark": {"type": "line", "strokeWidth": 5.4, "strokeJoin": "round"},
      "encoding": {
        "x": {"field": "t", "type": "temporal", "axis": null},
        "y": {"field": "v", "type": "quantitative"},
        "color": {"datum": "BTC/USDT change", "type": "nominal"}
      }
    }
  ]
}
